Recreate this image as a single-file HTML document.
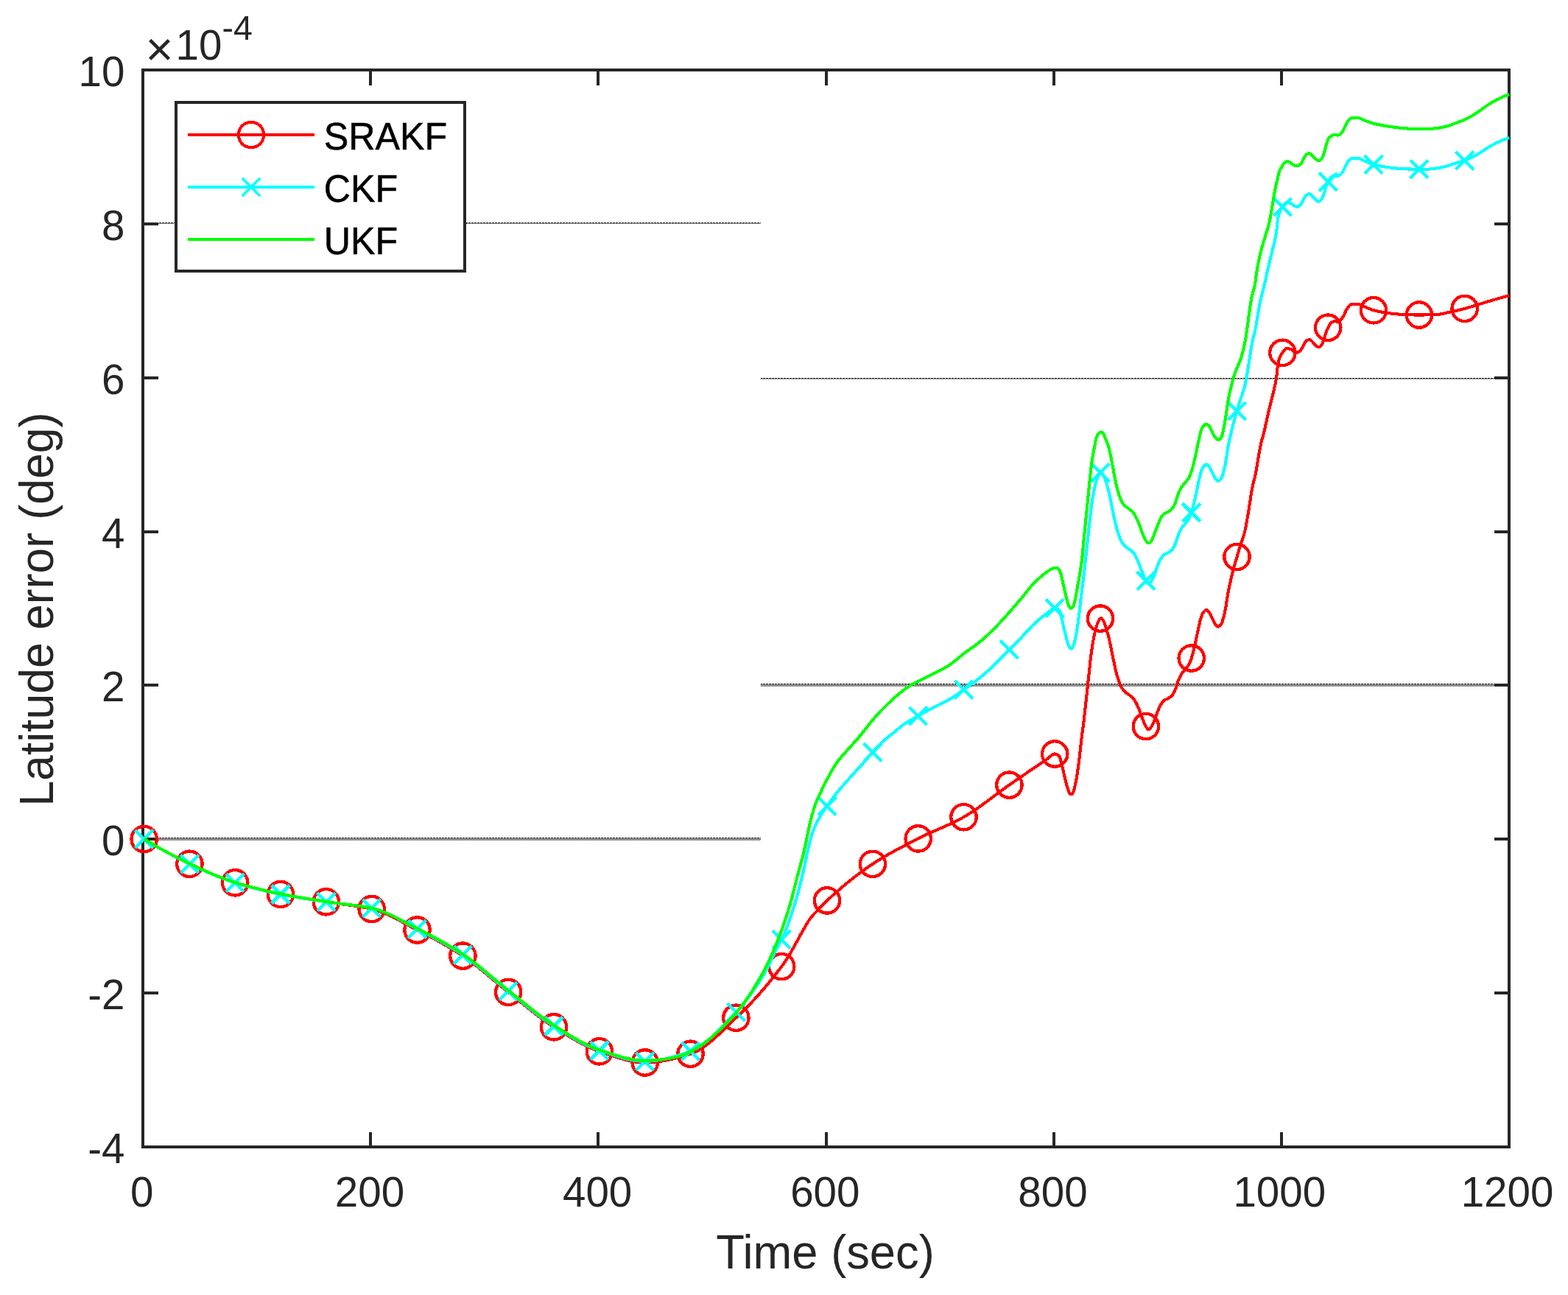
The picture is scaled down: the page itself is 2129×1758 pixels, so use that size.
<!DOCTYPE html>
<html lang="en"><head><meta charset="utf-8"><title>Latitude error</title>
<style>
html,body{margin:0;padding:0;background:#fff;}
body{width:2129px;height:1758px;overflow:hidden;}
svg{display:block;}
text{font-family:'Liberation Sans', Arial, Helvetica, sans-serif;}
</style></head><body>
<svg width="2129" height="1758" viewBox="0 0 2129 1758">
<defs>
<pattern id="g4" x="0" y="0" width="4" height="4" patternUnits="userSpaceOnUse">
<rect x="0" y="0" width="3" height="1" fill="#1c1c1c"/>
<rect x="1" y="1" width="1" height="1" fill="#1c1c1c"/><rect x="3" y="1" width="1" height="1" fill="#1c1c1c"/>
<rect x="0" y="2" width="1" height="1" fill="#1c1c1c"/><rect x="2" y="2" width="1" height="1" fill="#1c1c1c"/>
<rect x="1" y="3" width="1" height="1" fill="#1c1c1c"/><rect x="3" y="3" width="1" height="1" fill="#1c1c1c"/>
</pattern>
<clipPath id="ax"><rect x="192.0" y="93.0" width="1859.0" height="1466.0"/></clipPath>
</defs>
<rect x="0" y="0" width="2129" height="1758" fill="#ffffff"/>
<g transform="translate(0,302)"><rect x="194.0" y="0" width="839.0" height="2" fill="url(#g4)" shape-rendering="crispEdges"/></g>
<g transform="translate(0,513)"><rect x="1033" y="0" width="1016.0" height="2" fill="url(#g4)" shape-rendering="crispEdges"/></g>
<g transform="translate(0,928)"><rect x="1033" y="0" width="1016.0" height="4" fill="url(#g4)" shape-rendering="crispEdges"/></g>
<g transform="translate(0,1137)"><rect x="194.0" y="0" width="839.0" height="4" fill="url(#g4)" shape-rendering="crispEdges"/></g>
<g stroke="#262626" stroke-width="4" fill="none" shape-rendering="crispEdges">
<rect x="194.0" y="95.0" width="1855.0" height="1462.0"/>
<line x1="503" y1="1557.0" x2="503" y2="1536.5"/><line x1="503" y1="95.0" x2="503" y2="115.5"/>
<line x1="812" y1="1557.0" x2="812" y2="1536.5"/><line x1="812" y1="95.0" x2="812" y2="115.5"/>
<line x1="1122" y1="1557.0" x2="1122" y2="1536.5"/><line x1="1122" y1="95.0" x2="1122" y2="115.5"/>
<line x1="1431" y1="1557.0" x2="1431" y2="1536.5"/><line x1="1431" y1="95.0" x2="1431" y2="115.5"/>
<line x1="1740" y1="1557.0" x2="1740" y2="1536.5"/><line x1="1740" y1="95.0" x2="1740" y2="115.5"/>
<line x1="194.0" y1="304" x2="214.5" y2="304"/><line x1="2049.0" y1="304" x2="2028.5" y2="304"/>
<line x1="194.0" y1="513" x2="214.5" y2="513"/><line x1="2049.0" y1="513" x2="2028.5" y2="513"/>
<line x1="194.0" y1="722" x2="214.5" y2="722"/><line x1="2049.0" y1="722" x2="2028.5" y2="722"/>
<line x1="194.0" y1="930" x2="214.5" y2="930"/><line x1="2049.0" y1="930" x2="2028.5" y2="930"/>
<line x1="194.0" y1="1139" x2="214.5" y2="1139"/><line x1="2049.0" y1="1139" x2="2028.5" y2="1139"/>
<line x1="194.0" y1="1348" x2="214.5" y2="1348"/><line x1="2049.0" y1="1348" x2="2028.5" y2="1348"/>
</g>
<g fill="#262626" font-size="56.5">
<text x="192.8" y="1637.5" text-anchor="middle">0</text>
<text x="502.0" y="1637.5" text-anchor="middle">200</text>
<text x="811.1" y="1637.5" text-anchor="middle">400</text>
<text x="1120.3" y="1637.5" text-anchor="middle">600</text>
<text x="1429.5" y="1637.5" text-anchor="middle">800</text>
<text x="1737.3" y="1637.5" text-anchor="middle">1000</text>
<text x="2046.5" y="1637.5" text-anchor="middle">1200</text>
<text x="169.4" y="117.0" text-anchor="end">10</text>
<text x="169.4" y="326.0" text-anchor="end">8</text>
<text x="169.4" y="535.0" text-anchor="end">6</text>
<text x="169.4" y="744.0" text-anchor="end">4</text>
<text x="169.4" y="952.0" text-anchor="end">2</text>
<text x="169.4" y="1161.0" text-anchor="end">0</text>
<text x="169.4" y="1370.0" text-anchor="end">-2</text>
<text x="169.4" y="1579.0" text-anchor="end">-4</text>
<text x="197.4" y="89" font-size="65">×</text>
<text x="238.5" y="80.9" font-size="56.5">10</text>
<text x="301.5" y="53.6" font-size="46.5">-4</text>
</g>
<text transform="translate(1120.5,1721.8) scale(1,1.03)" text-anchor="middle" font-size="63.3" fill="#262626">Time (sec)</text>
<text transform="translate(71.7,827.2) rotate(-90) scale(1,1.045)" text-anchor="middle" font-size="62.5" fill="#262626">Latitude error (deg)</text>
<g fill="none" stroke-linejoin="round" stroke-linecap="butt" shape-rendering="crispEdges">
<path d="M195.7,1139.0 L196.7,1139.6 L197.7,1140.2 L198.7,1140.8 L199.7,1141.4 L200.7,1142.1 L201.7,1142.7 L202.7,1143.3 L203.7,1143.9 L204.7,1144.5 L205.7,1145.1 L206.7,1145.7 L207.7,1146.2 L208.7,1146.8 L209.7,1147.4 L210.7,1148.0 L211.7,1148.6 L212.7,1149.2 L213.7,1149.8 L214.7,1150.3 L215.7,1150.9 L216.7,1151.5 L217.7,1152.1 L218.7,1152.6 L219.7,1153.2 L220.7,1153.8 L221.7,1154.3 L222.7,1154.9 L223.7,1155.4 L224.7,1156.0 L225.7,1156.5 L226.7,1157.1 L227.7,1157.6 L228.7,1158.2 L229.7,1158.7 L230.7,1159.3 L231.7,1159.8 L232.7,1160.4 L233.7,1160.9 L234.7,1161.4 L235.7,1161.9 L236.7,1162.5 L237.7,1163.0 L238.7,1163.5 L239.7,1164.0 L240.7,1164.6 L241.7,1165.1 L242.7,1165.6 L243.7,1166.1 L244.7,1166.6 L245.7,1167.1 L246.7,1167.6 L247.7,1168.1 L248.7,1168.6 L249.7,1169.1 L250.7,1169.6 L251.7,1170.1 L252.7,1170.6 L253.7,1171.0 L254.7,1171.5 L255.7,1172.0 L256.7,1172.5 L257.7,1172.9 L258.7,1173.4 L259.7,1173.9 L260.7,1174.4 L261.7,1174.8 L262.7,1175.3 L263.7,1175.8 L264.7,1176.2 L265.7,1176.7 L266.7,1177.2 L267.7,1177.6 L268.7,1178.1 L269.7,1178.5 L270.7,1179.0 L271.7,1179.5 L272.7,1179.9 L273.7,1180.4 L274.7,1180.8 L275.7,1181.3 L276.7,1181.7 L277.7,1182.2 L278.7,1182.6 L279.7,1183.1 L280.7,1183.5 L281.7,1183.9 L282.7,1184.4 L283.7,1184.8 L284.7,1185.2 L285.7,1185.7 L286.7,1186.1 L287.7,1186.5 L288.7,1187.0 L289.7,1187.4 L290.7,1187.8 L291.7,1188.2 L292.7,1188.6 L293.7,1189.0 L294.7,1189.4 L295.7,1189.8 L296.7,1190.2 L297.7,1190.6 L298.7,1191.0 L299.7,1191.4 L300.7,1191.8 L301.7,1192.2 L302.7,1192.6 L303.7,1193.0 L304.7,1193.3 L305.7,1193.7 L306.7,1194.1 L307.7,1194.4 L308.7,1194.8 L309.7,1195.2 L310.7,1195.5 L311.7,1195.9 L312.7,1196.2 L313.7,1196.5 L314.7,1196.9 L315.7,1197.2 L316.7,1197.5 L317.7,1197.9 L318.7,1198.2 L319.7,1198.5 L320.7,1198.8 L321.7,1199.1 L322.7,1199.4 L323.7,1199.7 L324.7,1200.0 L325.7,1200.3 L326.7,1200.6 L327.7,1200.9 L328.7,1201.2 L329.7,1201.5 L330.7,1201.8 L331.7,1202.1 L332.7,1202.4 L333.7,1202.7 L334.7,1202.9 L335.7,1203.2 L336.7,1203.5 L337.7,1203.8 L338.7,1204.0 L339.7,1204.3 L340.7,1204.6 L341.7,1204.8 L342.7,1205.1 L343.7,1205.4 L344.7,1205.6 L345.7,1205.9 L346.7,1206.2 L347.7,1206.4 L348.7,1206.7 L349.7,1206.9 L350.7,1207.2 L351.7,1207.4 L352.7,1207.7 L353.7,1207.9 L354.7,1208.2 L355.7,1208.4 L356.7,1208.6 L357.7,1208.9 L358.7,1209.1 L359.7,1209.3 L360.7,1209.6 L361.7,1209.8 L362.7,1210.0 L363.7,1210.3 L364.7,1210.5 L365.7,1210.7 L366.7,1210.9 L367.7,1211.2 L368.7,1211.4 L369.7,1211.6 L370.7,1211.8 L371.7,1212.0 L372.7,1212.2 L373.7,1212.5 L374.7,1212.7 L375.7,1212.9 L376.7,1213.1 L377.7,1213.3 L378.7,1213.5 L379.7,1213.7 L380.7,1213.9 L381.7,1214.1 L382.7,1214.3 L383.7,1214.5 L384.7,1214.7 L385.7,1214.9 L386.7,1215.1 L387.7,1215.3 L388.7,1215.4 L389.7,1215.6 L390.7,1215.8 L391.7,1216.0 L392.7,1216.2 L393.7,1216.4 L394.7,1216.5 L395.7,1216.7 L396.7,1216.9 L397.7,1217.1 L398.7,1217.2 L399.7,1217.4 L400.7,1217.6 L401.7,1217.7 L402.7,1217.9 L403.7,1218.1 L404.7,1218.2 L405.7,1218.4 L406.7,1218.6 L407.7,1218.7 L408.7,1218.9 L409.7,1219.1 L410.7,1219.2 L411.7,1219.4 L412.7,1219.5 L413.7,1219.7 L414.7,1219.9 L415.7,1220.0 L416.7,1220.2 L417.7,1220.3 L418.7,1220.5 L419.7,1220.6 L420.7,1220.8 L421.7,1220.9 L422.7,1221.1 L423.7,1221.3 L424.7,1221.4 L425.7,1221.6 L426.7,1221.7 L427.7,1221.9 L428.7,1222.0 L429.7,1222.2 L430.7,1222.3 L431.7,1222.5 L432.7,1222.7 L433.7,1222.8 L434.7,1223.0 L435.7,1223.1 L436.7,1223.3 L437.7,1223.4 L438.7,1223.6 L439.7,1223.8 L440.7,1223.9 L441.7,1224.1 L442.7,1224.2 L443.7,1224.4 L444.7,1224.6 L445.7,1224.7 L446.7,1224.9 L447.7,1225.0 L448.7,1225.2 L449.7,1225.3 L450.7,1225.5 L451.7,1225.6 L452.7,1225.7 L453.7,1225.9 L454.7,1226.0 L455.7,1226.2 L456.7,1226.3 L457.7,1226.4 L458.7,1226.6 L459.7,1226.7 L460.7,1226.8 L461.7,1227.0 L462.7,1227.1 L463.7,1227.2 L464.7,1227.4 L465.7,1227.5 L466.7,1227.6 L467.7,1227.7 L468.7,1227.9 L469.7,1228.0 L470.7,1228.1 L471.7,1228.3 L472.7,1228.4 L473.7,1228.5 L474.7,1228.7 L475.7,1228.8 L476.7,1229.0 L477.7,1229.1 L478.7,1229.2 L479.7,1229.4 L480.7,1229.5 L481.7,1229.7 L482.7,1229.8 L483.7,1230.0 L484.7,1230.1 L485.7,1230.3 L486.7,1230.5 L487.7,1230.6 L488.7,1230.8 L489.7,1231.0 L490.7,1231.1 L491.7,1231.3 L492.7,1231.5 L493.7,1231.7 L494.7,1231.9 L495.7,1232.0 L496.7,1232.2 L497.7,1232.4 L498.7,1232.6 L499.7,1232.8 L500.7,1233.1 L501.7,1233.3 L502.7,1233.5 L503.7,1233.7 L504.7,1234.0 L505.7,1234.2 L506.7,1234.4 L507.7,1234.7 L508.7,1235.0 L509.7,1235.3 L510.7,1235.6 L511.7,1235.9 L512.7,1236.2 L513.7,1236.5 L514.7,1236.9 L515.7,1237.2 L516.7,1237.6 L517.7,1238.0 L518.7,1238.4 L519.7,1238.8 L520.7,1239.2 L521.7,1239.6 L522.7,1240.0 L523.7,1240.4 L524.7,1240.9 L525.7,1241.3 L526.7,1241.8 L527.7,1242.2 L528.7,1242.7 L529.7,1243.2 L530.7,1243.7 L531.7,1244.1 L532.7,1244.6 L533.7,1245.1 L534.7,1245.6 L535.7,1246.1 L536.7,1246.6 L537.7,1247.2 L538.7,1247.7 L539.7,1248.2 L540.7,1248.7 L541.7,1249.2 L542.7,1249.8 L543.7,1250.3 L544.7,1250.8 L545.7,1251.4 L546.7,1251.9 L547.7,1252.5 L548.7,1253.0 L549.7,1253.5 L550.7,1254.1 L551.7,1254.6 L552.7,1255.2 L553.7,1255.7 L554.7,1256.3 L555.7,1256.8 L556.7,1257.3 L557.7,1257.9 L558.7,1258.4 L559.7,1258.9 L560.7,1259.5 L561.7,1260.0 L562.7,1260.5 L563.7,1261.1 L564.7,1261.6 L565.7,1262.1 L566.7,1262.6 L567.7,1263.1 L568.7,1263.6 L569.7,1264.1 L570.7,1264.6 L571.7,1265.2 L572.7,1265.7 L573.7,1266.2 L574.7,1266.7 L575.7,1267.2 L576.7,1267.7 L577.7,1268.3 L578.7,1268.8 L579.7,1269.3 L580.7,1269.8 L581.7,1270.4 L582.7,1270.9 L583.7,1271.4 L584.7,1271.9 L585.7,1272.5 L586.7,1273.0 L587.7,1273.5 L588.7,1274.1 L589.7,1274.6 L590.7,1275.2 L591.7,1275.7 L592.7,1276.3 L593.7,1276.8 L594.7,1277.4 L595.7,1277.9 L596.7,1278.5 L597.7,1279.0 L598.7,1279.6 L599.7,1280.1 L600.7,1280.7 L601.7,1281.3 L602.7,1281.9 L603.7,1282.4 L604.7,1283.0 L605.7,1283.6 L606.7,1284.2 L607.7,1284.7 L608.7,1285.3 L609.7,1285.9 L610.7,1286.5 L611.7,1287.1 L612.7,1287.7 L613.7,1288.3 L614.7,1288.9 L615.7,1289.5 L616.7,1290.2 L617.7,1290.8 L618.7,1291.4 L619.7,1292.0 L620.7,1292.7 L621.7,1293.3 L622.7,1293.9 L623.7,1294.6 L624.7,1295.2 L625.7,1295.9 L626.7,1296.5 L627.7,1297.2 L628.7,1297.8 L629.7,1298.5 L630.7,1299.2 L631.7,1299.9 L632.7,1300.6 L633.7,1301.3 L634.7,1302.0 L635.7,1302.7 L636.7,1303.4 L637.7,1304.2 L638.7,1304.9 L639.7,1305.6 L640.7,1306.4 L641.7,1307.2 L642.7,1307.9 L643.7,1308.7 L644.7,1309.5 L645.7,1310.3 L646.7,1311.0 L647.7,1311.8 L648.7,1312.6 L649.7,1313.4 L650.7,1314.2 L651.7,1315.1 L652.7,1315.9 L653.7,1316.7 L654.7,1317.5 L655.7,1318.3 L656.7,1319.2 L657.7,1320.0 L658.7,1320.8 L659.7,1321.6 L660.7,1322.5 L661.7,1323.3 L662.7,1324.2 L663.7,1325.0 L664.7,1325.8 L665.7,1326.7 L666.7,1327.5 L667.7,1328.4 L668.7,1329.2 L669.7,1330.0 L670.7,1330.9 L671.7,1331.7 L672.7,1332.6 L673.7,1333.4 L674.7,1334.2 L675.7,1335.1 L676.7,1335.9 L677.7,1336.7 L678.7,1337.6 L679.7,1338.4 L680.7,1339.2 L681.7,1340.0 L682.7,1340.8 L683.7,1341.7 L684.7,1342.5 L685.7,1343.3 L686.7,1344.1 L687.7,1344.9 L688.7,1345.7 L689.7,1346.5 L690.7,1347.2 L691.7,1348.0 L692.7,1348.8 L693.7,1349.6 L694.7,1350.4 L695.7,1351.2 L696.7,1352.0 L697.7,1352.8 L698.7,1353.6 L699.7,1354.4 L700.7,1355.2 L701.7,1356.0 L702.7,1356.8 L703.7,1357.6 L704.7,1358.4 L705.7,1359.2 L706.7,1360.0 L707.7,1360.9 L708.7,1361.7 L709.7,1362.5 L710.7,1363.3 L711.7,1364.1 L712.7,1364.9 L713.7,1365.7 L714.7,1366.5 L715.7,1367.3 L716.7,1368.1 L717.7,1368.9 L718.7,1369.7 L719.7,1370.5 L720.7,1371.3 L721.7,1372.1 L722.7,1372.9 L723.7,1373.7 L724.7,1374.5 L725.7,1375.3 L726.7,1376.1 L727.7,1376.9 L728.7,1377.6 L729.7,1378.4 L730.7,1379.2 L731.7,1379.9 L732.7,1380.7 L733.7,1381.4 L734.7,1382.2 L735.7,1382.9 L736.7,1383.7 L737.7,1384.4 L738.7,1385.1 L739.7,1385.8 L740.7,1386.6 L741.7,1387.3 L742.7,1388.0 L743.7,1388.7 L744.7,1389.4 L745.7,1390.0 L746.7,1390.7 L747.7,1391.4 L748.7,1392.0 L749.7,1392.7 L750.7,1393.3 L751.7,1394.0 L752.7,1394.6 L753.7,1395.2 L754.7,1395.9 L755.7,1396.5 L756.7,1397.1 L757.7,1397.8 L758.7,1398.4 L759.7,1399.0 L760.7,1399.6 L761.7,1400.3 L762.7,1400.9 L763.7,1401.5 L764.7,1402.1 L765.7,1402.7 L766.7,1403.4 L767.7,1404.0 L768.7,1404.6 L769.7,1405.2 L770.7,1405.8 L771.7,1406.4 L772.7,1407.0 L773.7,1407.6 L774.7,1408.2 L775.7,1408.8 L776.7,1409.4 L777.7,1410.0 L778.7,1410.6 L779.7,1411.1 L780.7,1411.7 L781.7,1412.3 L782.7,1412.8 L783.7,1413.4 L784.7,1413.9 L785.7,1414.5 L786.7,1415.0 L787.7,1415.6 L788.7,1416.1 L789.7,1416.6 L790.7,1417.2 L791.7,1417.7 L792.7,1418.2 L793.7,1418.7 L794.7,1419.2 L795.7,1419.7 L796.7,1420.2 L797.7,1420.6 L798.7,1421.1 L799.7,1421.6 L800.7,1422.0 L801.7,1422.5 L802.7,1422.9 L803.7,1423.3 L804.7,1423.8 L805.7,1424.2 L806.7,1424.6 L807.7,1425.0 L808.7,1425.4 L809.7,1425.8 L810.7,1426.1 L811.7,1426.5 L812.7,1426.9 L813.7,1427.2 L814.7,1427.5 L815.7,1427.9 L816.7,1428.2 L817.7,1428.6 L818.7,1428.9 L819.7,1429.2 L820.7,1429.6 L821.7,1429.9 L822.7,1430.3 L823.7,1430.6 L824.7,1431.0 L825.7,1431.3 L826.7,1431.7 L827.7,1432.0 L828.7,1432.3 L829.7,1432.7 L830.7,1433.0 L831.7,1433.4 L832.7,1433.7 L833.7,1434.0 L834.7,1434.3 L835.7,1434.7 L836.7,1435.0 L837.7,1435.3 L838.7,1435.6 L839.7,1435.9 L840.7,1436.2 L841.7,1436.6 L842.7,1436.9 L843.7,1437.1 L844.7,1437.4 L845.7,1437.7 L846.7,1438.0 L847.7,1438.3 L848.7,1438.5 L849.7,1438.8 L850.7,1439.0 L851.7,1439.3 L852.7,1439.5 L853.7,1439.8 L854.7,1440.0 L855.7,1440.2 L856.7,1440.4 L857.7,1440.6 L858.7,1440.8 L859.7,1441.0 L860.7,1441.1 L861.7,1441.3 L862.7,1441.5 L863.7,1441.6 L864.7,1441.7 L865.7,1441.9 L866.7,1442.0 L867.7,1442.1 L868.7,1442.2 L869.7,1442.3 L870.7,1442.3 L871.7,1442.4 L872.7,1442.4 L873.7,1442.5 L874.7,1442.5 L875.7,1442.5 L876.7,1442.5 L877.7,1442.5 L878.7,1442.5 L879.7,1442.4 L880.7,1442.4 L881.7,1442.4 L882.7,1442.3 L883.7,1442.2 L884.7,1442.2 L885.7,1442.1 L886.7,1442.0 L887.7,1441.9 L888.7,1441.8 L889.7,1441.7 L890.7,1441.6 L891.7,1441.5 L892.7,1441.4 L893.7,1441.2 L894.7,1441.1 L895.7,1441.0 L896.7,1440.8 L897.7,1440.7 L898.7,1440.5 L899.7,1440.3 L900.7,1440.2 L901.7,1440.0 L902.7,1439.8 L903.7,1439.6 L904.7,1439.4 L905.7,1439.2 L906.7,1439.0 L907.7,1438.8 L908.7,1438.6 L909.7,1438.3 L910.7,1438.1 L911.7,1437.9 L912.7,1437.6 L913.7,1437.4 L914.7,1437.2 L915.7,1436.9 L916.7,1436.7 L917.7,1436.4 L918.7,1436.1 L919.7,1435.9 L920.7,1435.6 L921.7,1435.3 L922.7,1435.1 L923.7,1434.8 L924.7,1434.5 L925.7,1434.2 L926.7,1434.0 L927.7,1433.7 L928.7,1433.4 L929.7,1433.1 L930.7,1432.8 L931.7,1432.5 L932.7,1432.2 L933.7,1431.9 L934.7,1431.6 L935.7,1431.3 L936.7,1431.0 L937.7,1430.7 L938.7,1430.3 L939.7,1430.0 L940.7,1429.6 L941.7,1429.2 L942.7,1428.8 L943.7,1428.3 L944.7,1427.9 L945.7,1427.4 L946.7,1426.9 L947.7,1426.3 L948.7,1425.7 L949.7,1425.2 L950.7,1424.6 L951.7,1423.9 L952.7,1423.3 L953.7,1422.6 L954.7,1422.0 L955.7,1421.3 L956.7,1420.5 L957.7,1419.8 L958.7,1419.1 L959.7,1418.3 L960.7,1417.5 L961.7,1416.7 L962.7,1415.9 L963.7,1415.1 L964.7,1414.3 L965.7,1413.4 L966.7,1412.6 L967.7,1411.7 L968.7,1410.8 L969.7,1410.0 L970.7,1409.1 L971.7,1408.2 L972.7,1407.2 L973.7,1406.3 L974.7,1405.4 L975.7,1404.5 L976.7,1403.5 L977.7,1402.6 L978.7,1401.6 L979.7,1400.7 L980.7,1399.7 L981.7,1398.7 L982.7,1397.8 L983.7,1396.8 L984.7,1395.8 L985.7,1394.9 L986.7,1393.9 L987.7,1392.9 L988.7,1391.9 L989.7,1391.0 L990.7,1390.0 L991.7,1389.0 L992.7,1388.1 L993.7,1387.1 L994.7,1386.1 L995.7,1385.2 L996.7,1384.2 L997.7,1383.3 L998.7,1382.3 L999.7,1381.4 L1000.7,1380.5 L1001.7,1379.5 L1002.7,1378.6 L1003.7,1377.6 L1004.7,1376.7 L1005.7,1375.7 L1006.7,1374.7 L1007.7,1373.8 L1008.7,1372.8 L1009.7,1371.8 L1010.7,1370.8 L1011.7,1369.8 L1012.7,1368.8 L1013.7,1367.8 L1014.7,1366.7 L1015.7,1365.7 L1016.7,1364.7 L1017.7,1363.6 L1018.7,1362.6 L1019.7,1361.5 L1020.7,1360.5 L1021.7,1359.4 L1022.7,1358.4 L1023.7,1357.3 L1024.7,1356.2 L1025.7,1355.1 L1026.7,1354.0 L1027.7,1352.9 L1028.7,1351.8 L1029.7,1350.7 L1030.7,1349.6 L1031.7,1348.4 L1032.7,1347.3 L1033.7,1346.1 L1034.7,1345.0 L1035.7,1343.8 L1036.7,1342.7 L1037.7,1341.5 L1038.7,1340.3 L1039.7,1339.2 L1040.7,1338.0 L1041.7,1336.8 L1042.7,1335.6 L1043.7,1334.4 L1044.7,1333.1 L1045.7,1331.9 L1046.7,1330.7 L1047.7,1329.5 L1048.7,1328.2 L1049.7,1327.0 L1050.7,1325.7 L1051.7,1324.4 L1052.7,1323.2 L1053.7,1321.9 L1054.7,1320.6 L1055.7,1319.3 L1056.7,1318.0 L1057.7,1316.7 L1058.7,1315.4 L1059.7,1314.1 L1060.7,1312.8 L1061.7,1311.4 L1062.7,1310.1 L1063.7,1308.7 L1064.7,1307.3 L1065.7,1305.8 L1066.7,1304.3 L1067.7,1302.8 L1068.7,1301.2 L1069.7,1299.6 L1070.7,1298.0 L1071.7,1296.4 L1072.7,1294.8 L1073.7,1293.1 L1074.7,1291.3 L1075.7,1289.5 L1076.7,1287.7 L1077.7,1285.9 L1078.7,1284.1 L1079.7,1282.2 L1080.7,1280.4 L1081.7,1278.6 L1082.7,1276.8 L1083.7,1275.0 L1084.7,1273.1 L1085.7,1271.3 L1086.7,1269.5 L1087.7,1267.6 L1088.7,1265.8 L1089.7,1264.1 L1090.7,1262.3 L1091.7,1260.6 L1092.7,1258.9 L1093.7,1257.2 L1094.7,1255.5 L1095.7,1253.8 L1096.7,1252.1 L1097.7,1250.5 L1098.7,1249.0 L1099.7,1247.5 L1100.7,1246.1 L1101.7,1244.9 L1102.7,1243.7 L1103.7,1242.5 L1104.7,1241.4 L1105.7,1240.4 L1106.7,1239.3 L1107.7,1238.3 L1108.7,1237.3 L1109.7,1236.2 L1110.7,1235.2 L1111.7,1234.1 L1112.7,1233.0 L1113.7,1232.0 L1114.7,1230.9 L1115.7,1229.8 L1116.7,1228.8 L1117.7,1227.7 L1118.7,1226.7 L1119.7,1225.7 L1120.7,1224.7 L1121.7,1223.7 L1122.7,1222.8 L1123.7,1221.8 L1124.7,1220.9 L1125.7,1220.0 L1126.7,1219.1 L1127.7,1218.2 L1128.7,1217.3 L1129.7,1216.3 L1130.7,1215.4 L1131.7,1214.5 L1132.7,1213.7 L1133.7,1212.8 L1134.7,1211.9 L1135.7,1211.0 L1136.7,1210.1 L1137.7,1209.2 L1138.7,1208.4 L1139.7,1207.5 L1140.7,1206.6 L1141.7,1205.8 L1142.7,1204.9 L1143.7,1204.1 L1144.7,1203.2 L1145.7,1202.4 L1146.7,1201.5 L1147.7,1200.7 L1148.7,1199.9 L1149.7,1199.0 L1150.7,1198.2 L1151.7,1197.4 L1152.7,1196.6 L1153.7,1195.8 L1154.7,1195.0 L1155.7,1194.2 L1156.7,1193.4 L1157.7,1192.6 L1158.7,1191.8 L1159.7,1191.0 L1160.7,1190.2 L1161.7,1189.5 L1162.7,1188.7 L1163.7,1187.9 L1164.7,1187.2 L1165.7,1186.4 L1166.7,1185.7 L1167.7,1184.9 L1168.7,1184.2 L1169.7,1183.4 L1170.7,1182.7 L1171.7,1182.0 L1172.7,1181.3 L1173.7,1180.6 L1174.7,1179.8 L1175.7,1179.1 L1176.7,1178.4 L1177.7,1177.7 L1178.7,1177.0 L1179.7,1176.4 L1180.7,1175.7 L1181.7,1175.0 L1182.7,1174.3 L1183.7,1173.7 L1184.7,1173.0 L1185.7,1172.3 L1186.7,1171.7 L1187.7,1171.0 L1188.7,1170.4 L1189.7,1169.8 L1190.7,1169.1 L1191.7,1168.5 L1192.7,1167.9 L1193.7,1167.3 L1194.7,1166.7 L1195.7,1166.0 L1196.7,1165.4 L1197.7,1164.8 L1198.7,1164.2 L1199.7,1163.6 L1200.7,1163.0 L1201.7,1162.5 L1202.7,1161.9 L1203.7,1161.3 L1204.7,1160.7 L1205.7,1160.1 L1206.7,1159.6 L1207.7,1159.0 L1208.7,1158.4 L1209.7,1157.9 L1210.7,1157.3 L1211.7,1156.8 L1212.7,1156.2 L1213.7,1155.7 L1214.7,1155.1 L1215.7,1154.6 L1216.7,1154.0 L1217.7,1153.5 L1218.7,1152.9 L1219.7,1152.4 L1220.7,1151.9 L1221.7,1151.3 L1222.7,1150.8 L1223.7,1150.3 L1224.7,1149.7 L1225.7,1149.2 L1226.7,1148.7 L1227.7,1148.2 L1228.7,1147.7 L1229.7,1147.1 L1230.7,1146.6 L1231.7,1146.1 L1232.7,1145.6 L1233.7,1145.1 L1234.7,1144.5 L1235.7,1144.0 L1236.7,1143.5 L1237.7,1143.0 L1238.7,1142.5 L1239.7,1142.0 L1240.7,1141.5 L1241.7,1141.0 L1242.7,1140.4 L1243.7,1139.9 L1244.7,1139.4 L1245.7,1138.9 L1246.7,1138.4 L1247.7,1137.9 L1248.7,1137.4 L1249.7,1136.9 L1250.7,1136.4 L1251.7,1135.9 L1252.7,1135.4 L1253.7,1134.9 L1254.7,1134.5 L1255.7,1134.0 L1256.7,1133.5 L1257.7,1133.1 L1258.7,1132.6 L1259.7,1132.1 L1260.7,1131.7 L1261.7,1131.2 L1262.7,1130.8 L1263.7,1130.3 L1264.7,1129.9 L1265.7,1129.4 L1266.7,1129.0 L1267.7,1128.6 L1268.7,1128.1 L1269.7,1127.7 L1270.7,1127.2 L1271.7,1126.8 L1272.7,1126.4 L1273.7,1125.9 L1274.7,1125.5 L1275.7,1125.1 L1276.7,1124.6 L1277.7,1124.2 L1278.7,1123.7 L1279.7,1123.3 L1280.7,1122.9 L1281.7,1122.4 L1282.7,1122.0 L1283.7,1121.5 L1284.7,1121.1 L1285.7,1120.6 L1286.7,1120.2 L1287.7,1119.7 L1288.7,1119.2 L1289.7,1118.8 L1290.7,1118.3 L1291.7,1117.8 L1292.7,1117.4 L1293.7,1116.9 L1294.7,1116.4 L1295.7,1115.9 L1296.7,1115.4 L1297.7,1114.9 L1298.7,1114.4 L1299.7,1113.9 L1300.7,1113.4 L1301.7,1112.9 L1302.7,1112.4 L1303.7,1111.8 L1304.7,1111.3 L1305.7,1110.7 L1306.7,1110.2 L1307.7,1109.6 L1308.7,1109.1 L1309.7,1108.5 L1310.7,1107.9 L1311.7,1107.3 L1312.7,1106.7 L1313.7,1106.1 L1314.7,1105.5 L1315.7,1104.9 L1316.7,1104.2 L1317.7,1103.6 L1318.7,1103.0 L1319.7,1102.3 L1320.7,1101.6 L1321.7,1101.0 L1322.7,1100.3 L1323.7,1099.6 L1324.7,1098.9 L1325.7,1098.3 L1326.7,1097.6 L1327.7,1096.9 L1328.7,1096.2 L1329.7,1095.5 L1330.7,1094.7 L1331.7,1094.0 L1332.7,1093.3 L1333.7,1092.6 L1334.7,1091.8 L1335.7,1091.1 L1336.7,1090.4 L1337.7,1089.6 L1338.7,1088.9 L1339.7,1088.2 L1340.7,1087.4 L1341.7,1086.7 L1342.7,1085.9 L1343.7,1085.2 L1344.7,1084.4 L1345.7,1083.7 L1346.7,1082.9 L1347.7,1082.2 L1348.7,1081.4 L1349.7,1080.7 L1350.7,1079.9 L1351.7,1079.2 L1352.7,1078.4 L1353.7,1077.7 L1354.7,1076.9 L1355.7,1076.2 L1356.7,1075.4 L1357.7,1074.7 L1358.7,1074.0 L1359.7,1073.2 L1360.7,1072.5 L1361.7,1071.7 L1362.7,1071.0 L1363.7,1070.3 L1364.7,1069.6 L1365.7,1068.9 L1366.7,1068.1 L1367.7,1067.4 L1368.7,1066.7 L1369.7,1066.0 L1370.7,1065.3 L1371.7,1064.6 L1372.7,1063.9 L1373.7,1063.3 L1374.7,1062.6 L1375.7,1061.9 L1376.7,1061.2 L1377.7,1060.5 L1378.7,1059.8 L1379.7,1059.1 L1380.7,1058.4 L1381.7,1057.7 L1382.7,1057.0 L1383.7,1056.4 L1384.7,1055.7 L1385.7,1055.0 L1386.7,1054.3 L1387.7,1053.6 L1388.7,1052.9 L1389.7,1052.2 L1390.7,1051.6 L1391.7,1050.9 L1392.7,1050.2 L1393.7,1049.5 L1394.7,1048.8 L1395.7,1048.1 L1396.7,1047.5 L1397.7,1046.8 L1398.7,1046.1 L1399.7,1045.4 L1400.7,1044.7 L1401.7,1044.1 L1402.7,1043.4 L1403.7,1042.7 L1404.7,1042.0 L1405.7,1041.3 L1406.7,1040.7 L1407.7,1040.0 L1408.7,1039.3 L1409.7,1038.6 L1410.7,1037.9 L1411.7,1037.3 L1412.7,1036.6 L1413.7,1035.9 L1414.7,1035.2 L1415.7,1034.6 L1416.7,1033.9 L1417.7,1033.2 L1418.7,1032.5 L1419.7,1031.9 L1420.7,1031.2 L1421.7,1030.5 L1422.7,1029.7 L1423.7,1028.9 L1424.7,1028.0 L1425.7,1027.1 L1426.7,1026.2 L1427.7,1025.4 L1428.7,1024.7 L1429.7,1024.1 L1430.7,1023.7 L1431.7,1023.5 L1432.7,1023.5 L1433.7,1023.7 L1434.7,1024.0 L1435.7,1024.4 L1436.7,1025.0 L1437.7,1025.7 L1438.7,1027.1 L1439.7,1030.2 L1440.7,1034.1 L1441.7,1037.9 L1442.7,1042.1 L1443.7,1046.6 L1444.7,1050.9 L1445.7,1055.1 L1446.7,1059.1 L1447.7,1063.1 L1448.7,1067.0 L1449.7,1070.5 L1450.7,1073.4 L1451.7,1075.7 L1452.7,1077.2 L1453.7,1078.3 L1454.7,1078.4 L1455.7,1077.6 L1456.7,1076.3 L1457.7,1074.3 L1458.7,1070.7 L1459.7,1066.2 L1460.7,1061.6 L1461.7,1056.4 L1462.7,1050.5 L1463.7,1043.7 L1464.7,1036.0 L1465.7,1027.8 L1466.7,1019.1 L1467.7,1009.9 L1468.7,1001.3 L1469.7,993.6 L1470.7,986.2 L1471.7,978.2 L1472.7,969.3 L1473.7,959.9 L1474.7,950.6 L1475.7,941.4 L1476.7,932.3 L1477.7,923.1 L1478.7,914.0 L1479.7,904.4 L1480.7,895.0 L1481.7,887.0 L1482.7,880.0 L1483.7,873.6 L1484.7,868.0 L1485.7,862.8 L1486.7,858.1 L1487.7,853.9 L1488.7,850.4 L1489.7,847.4 L1490.7,844.8 L1491.7,842.7 L1492.7,841.2 L1493.7,840.0 L1494.7,839.2 L1495.7,839.4 L1496.7,840.5 L1497.7,842.0 L1498.7,843.7 L1499.7,846.0 L1500.7,848.9 L1501.7,852.2 L1502.7,855.4 L1503.7,858.8 L1504.7,862.5 L1505.7,866.4 L1506.7,870.8 L1507.7,875.6 L1508.7,880.6 L1509.7,885.4 L1510.7,890.2 L1511.7,895.0 L1512.7,899.8 L1513.7,904.5 L1514.7,909.3 L1515.7,913.5 L1516.7,917.1 L1517.7,920.3 L1518.7,923.3 L1519.7,926.0 L1520.7,928.5 L1521.7,930.9 L1522.7,932.9 L1523.7,934.5 L1524.7,936.0 L1525.7,937.3 L1526.7,938.4 L1527.7,939.4 L1528.7,940.2 L1529.7,940.9 L1530.7,941.6 L1531.7,942.3 L1532.7,943.0 L1533.7,943.8 L1534.7,944.5 L1535.7,945.2 L1536.7,946.0 L1537.7,946.9 L1538.7,947.9 L1539.7,949.2 L1540.7,950.8 L1541.7,952.5 L1542.7,954.4 L1543.7,956.4 L1544.7,958.6 L1545.7,961.0 L1546.7,963.4 L1547.7,965.9 L1548.7,968.6 L1549.7,971.3 L1550.7,974.0 L1551.7,976.6 L1552.7,979.1 L1553.7,981.6 L1554.7,983.9 L1555.7,985.8 L1556.7,987.5 L1557.7,989.1 L1558.7,990.1 L1559.7,990.2 L1560.7,989.7 L1561.7,988.7 L1562.7,987.5 L1563.7,986.2 L1564.7,984.3 L1565.7,982.1 L1566.7,979.7 L1567.7,977.3 L1568.7,974.5 L1569.7,971.5 L1570.7,968.6 L1571.7,966.1 L1572.7,963.6 L1573.7,961.3 L1574.7,959.2 L1575.7,957.3 L1576.7,955.6 L1577.7,953.9 L1578.7,952.5 L1579.7,951.3 L1580.7,950.6 L1581.7,950.1 L1582.7,949.6 L1583.7,949.3 L1584.7,948.8 L1585.7,948.3 L1586.7,947.7 L1587.7,947.1 L1588.7,946.4 L1589.7,945.6 L1590.7,944.7 L1591.7,943.7 L1592.7,942.3 L1593.7,940.5 L1594.7,938.6 L1595.7,936.4 L1596.7,933.7 L1597.7,930.5 L1598.7,927.2 L1599.7,924.3 L1600.7,921.9 L1601.7,919.7 L1602.7,917.7 L1603.7,915.9 L1604.7,914.3 L1605.7,912.9 L1606.7,911.7 L1607.7,910.5 L1608.7,909.4 L1609.7,908.2 L1610.7,906.9 L1611.7,905.8 L1612.7,904.5 L1613.7,903.1 L1614.7,901.3 L1615.7,899.1 L1616.7,896.5 L1617.7,893.5 L1618.7,890.4 L1619.7,886.9 L1620.7,882.9 L1621.7,878.7 L1622.7,874.4 L1623.7,869.9 L1624.7,865.0 L1625.7,860.0 L1626.7,855.3 L1627.7,850.8 L1628.7,846.3 L1629.7,842.1 L1630.7,838.4 L1631.7,835.7 L1632.7,833.4 L1633.7,831.6 L1634.7,830.2 L1635.7,829.3 L1636.7,828.5 L1637.7,828.1 L1638.7,828.3 L1639.7,829.0 L1640.7,830.0 L1641.7,831.0 L1642.7,832.5 L1643.7,834.4 L1644.7,836.5 L1645.7,838.5 L1646.7,840.6 L1647.7,842.8 L1648.7,845.0 L1649.7,846.7 L1650.7,848.0 L1651.7,849.2 L1652.7,850.2 L1653.7,850.7 L1654.7,850.6 L1655.7,850.0 L1656.7,849.1 L1657.7,848.0 L1658.7,846.4 L1659.7,843.7 L1660.7,840.3 L1661.7,836.7 L1662.7,832.7 L1663.7,828.0 L1664.7,822.6 L1665.7,815.7 L1666.7,808.8 L1667.7,803.2 L1668.7,798.3 L1669.7,793.7 L1670.7,789.4 L1671.7,785.1 L1672.7,780.9 L1673.7,776.9 L1674.7,773.0 L1675.7,769.2 L1676.7,765.6 L1677.7,762.1 L1678.7,758.8 L1679.7,755.4 L1680.7,751.9 L1681.7,748.4 L1682.7,745.0 L1683.7,741.8 L1684.7,738.9 L1685.7,736.2 L1686.7,733.3 L1687.7,730.2 L1688.7,726.9 L1689.7,723.3 L1690.7,719.2 L1691.7,714.3 L1692.7,708.7 L1693.7,702.9 L1694.7,697.0 L1695.7,690.9 L1696.7,684.6 L1697.7,678.2 L1698.7,671.4 L1699.7,665.1 L1700.7,660.1 L1701.7,655.9 L1702.7,652.2 L1703.7,648.3 L1704.7,644.0 L1705.7,638.8 L1706.7,632.6 L1707.7,626.1 L1708.7,620.1 L1709.7,614.7 L1710.7,609.5 L1711.7,604.6 L1712.7,600.1 L1713.7,596.0 L1714.7,592.4 L1715.7,588.9 L1716.7,585.0 L1717.7,580.6 L1718.7,576.0 L1719.7,571.4 L1720.7,566.8 L1721.7,562.4 L1722.7,558.1 L1723.7,553.8 L1724.7,549.5 L1725.7,545.3 L1726.7,541.3 L1727.7,537.5 L1728.7,533.7 L1729.7,529.6 L1730.7,525.1 L1731.7,520.4 L1732.7,515.1 L1733.7,508.4 L1734.7,497.2 L1735.7,491.5 L1736.7,488.0 L1737.7,485.4 L1738.7,483.2 L1739.7,481.3 L1740.7,479.8 L1741.7,478.4 L1742.7,476.9 L1743.7,475.5 L1744.7,474.3 L1745.7,473.3 L1746.7,472.8 L1747.7,472.8 L1748.7,472.9 L1749.7,473.2 L1750.7,473.4 L1751.7,473.8 L1752.7,474.1 L1753.7,474.6 L1754.7,475.4 L1755.7,476.2 L1756.7,476.9 L1757.7,477.4 L1758.7,477.8 L1759.7,478.2 L1760.7,478.4 L1761.7,478.5 L1762.7,478.1 L1763.7,477.5 L1764.7,476.6 L1765.7,475.7 L1766.7,474.5 L1767.7,472.7 L1768.7,470.8 L1769.7,469.0 L1770.7,467.3 L1771.7,465.4 L1772.7,463.7 L1773.7,462.7 L1774.7,462.1 L1775.7,461.6 L1776.7,461.3 L1777.7,461.1 L1778.7,461.3 L1779.7,461.9 L1780.7,462.8 L1781.7,463.8 L1782.7,464.8 L1783.7,465.9 L1784.7,467.1 L1785.7,468.3 L1786.7,469.1 L1787.7,470.0 L1788.7,470.8 L1789.7,471.3 L1790.7,471.4 L1791.7,470.9 L1792.7,470.2 L1793.7,469.2 L1794.7,468.0 L1795.7,465.9 L1796.7,463.3 L1797.7,460.5 L1798.7,457.4 L1799.7,453.9 L1800.7,450.7 L1801.7,448.1 L1802.7,445.7 L1803.7,443.7 L1804.7,441.8 L1805.7,440.1 L1806.7,438.9 L1807.7,438.1 L1808.7,437.4 L1809.7,436.8 L1810.7,436.3 L1811.7,436.1 L1812.7,436.1 L1813.7,436.3 L1814.7,436.5 L1815.7,436.7 L1816.7,436.7 L1817.7,436.4 L1818.7,435.8 L1819.7,435.1 L1820.7,434.2 L1821.7,433.0 L1822.7,431.4 L1823.7,429.6 L1824.7,427.8 L1825.7,425.7 L1826.7,423.6 L1827.7,421.5 L1828.7,419.7 L1829.7,418.1 L1830.7,416.5 L1831.7,415.3 L1832.7,414.4 L1833.7,413.6 L1834.7,413.0 L1835.7,412.8 L1836.7,412.8 L1837.7,412.8 L1838.7,412.8 L1839.7,412.8 L1840.7,412.8 L1841.7,412.8 L1842.7,412.8 L1843.7,412.8 L1844.7,412.8 L1845.7,413.0 L1846.7,413.4 L1847.7,413.8 L1848.7,414.3 L1849.7,414.9 L1850.7,415.4 L1851.7,415.8 L1852.7,416.2 L1853.7,416.7 L1854.7,417.1 L1855.7,417.6 L1856.7,418.0 L1857.7,418.5 L1858.7,418.9 L1859.7,419.3 L1860.7,419.7 L1861.7,420.1 L1862.7,420.5 L1863.7,420.8 L1864.7,421.1 L1865.7,421.4 L1866.7,421.6 L1867.7,421.9 L1868.7,422.1 L1869.7,422.3 L1870.7,422.5 L1871.7,422.7 L1872.7,422.9 L1873.7,423.1 L1874.7,423.3 L1875.7,423.5 L1876.7,423.7 L1877.7,423.8 L1878.7,424.0 L1879.7,424.1 L1880.7,424.3 L1881.7,424.5 L1882.7,424.6 L1883.7,424.8 L1884.7,424.9 L1885.7,425.1 L1886.7,425.2 L1887.7,425.3 L1888.7,425.5 L1889.7,425.6 L1890.7,425.7 L1891.7,425.8 L1892.7,426.0 L1893.7,426.1 L1894.7,426.2 L1895.7,426.3 L1896.7,426.3 L1897.7,426.4 L1898.7,426.5 L1899.7,426.6 L1900.7,426.7 L1901.7,426.8 L1902.7,426.9 L1903.7,426.9 L1904.7,427.0 L1905.7,427.1 L1906.7,427.1 L1907.7,427.2 L1908.7,427.2 L1909.7,427.2 L1910.7,427.3 L1911.7,427.3 L1912.7,427.3 L1913.7,427.3 L1914.7,427.3 L1915.7,427.4 L1916.7,427.4 L1917.7,427.4 L1918.7,427.4 L1919.7,427.4 L1920.7,427.5 L1921.7,427.5 L1922.7,427.5 L1923.7,427.5 L1924.7,427.5 L1925.7,427.5 L1926.7,427.5 L1927.7,427.5 L1928.7,427.5 L1929.7,427.5 L1930.7,427.5 L1931.7,427.5 L1932.7,427.5 L1933.7,427.5 L1934.7,427.4 L1935.7,427.4 L1936.7,427.4 L1937.7,427.4 L1938.7,427.4 L1939.7,427.3 L1940.7,427.3 L1941.7,427.3 L1942.7,427.2 L1943.7,427.2 L1944.7,427.2 L1945.7,427.1 L1946.7,427.1 L1947.7,427.1 L1948.7,427.0 L1949.7,427.0 L1950.7,426.9 L1951.7,426.9 L1952.7,426.8 L1953.7,426.7 L1954.7,426.6 L1955.7,426.4 L1956.7,426.2 L1957.7,426.1 L1958.7,425.8 L1959.7,425.6 L1960.7,425.4 L1961.7,425.2 L1962.7,425.0 L1963.7,424.7 L1964.7,424.5 L1965.7,424.3 L1966.7,424.1 L1967.7,423.9 L1968.7,423.7 L1969.7,423.5 L1970.7,423.3 L1971.7,423.0 L1972.7,422.8 L1973.7,422.6 L1974.7,422.4 L1975.7,422.2 L1976.7,421.9 L1977.7,421.7 L1978.7,421.5 L1979.7,421.2 L1980.7,421.0 L1981.7,420.7 L1982.7,420.5 L1983.7,420.2 L1984.7,420.0 L1985.7,419.7 L1986.7,419.5 L1987.7,419.2 L1988.7,419.0 L1989.7,418.7 L1990.7,418.4 L1991.7,418.1 L1992.7,417.8 L1993.7,417.5 L1994.7,417.2 L1995.7,416.9 L1996.7,416.6 L1997.7,416.3 L1998.7,416.0 L1999.7,415.7 L2000.7,415.4 L2001.7,415.1 L2002.7,414.7 L2003.7,414.4 L2004.7,414.1 L2005.7,413.8 L2006.7,413.5 L2007.7,413.2 L2008.7,412.9 L2009.7,412.6 L2010.7,412.3 L2011.7,412.0 L2012.7,411.7 L2013.7,411.4 L2014.7,411.1 L2015.7,410.7 L2016.7,410.4 L2017.7,410.1 L2018.7,409.8 L2019.7,409.5 L2020.7,409.2 L2021.7,409.0 L2022.7,408.7 L2023.7,408.4 L2024.7,408.1 L2025.7,407.8 L2026.7,407.5 L2027.7,407.2 L2028.7,406.9 L2029.7,406.6 L2030.7,406.3 L2031.7,406.0 L2032.7,405.8 L2033.7,405.5 L2034.7,405.2 L2035.7,404.9 L2036.7,404.6 L2037.7,404.3 L2038.7,404.0 L2039.7,403.8 L2040.7,403.5 L2041.7,403.2 L2042.7,402.9 L2043.7,402.6 L2044.7,402.4 L2045.7,402.1 L2046.7,401.8 L2047.7,401.5 L2048.7,401.3 L2049.3,401.1" stroke="#ff0000" stroke-width="4.1"/>
<g stroke="#ff0000" stroke-width="4.3">
<circle cx="195.7" cy="1139.0" r="17.2"/>
<circle cx="257.4" cy="1172.8" r="17.2"/>
<circle cx="319.2" cy="1198.3" r="17.2"/>
<circle cx="381.0" cy="1214.0" r="17.2"/>
<circle cx="442.9" cy="1224.3" r="17.2"/>
<circle cx="504.7" cy="1234.0" r="17.2"/>
<circle cx="566.5" cy="1262.5" r="17.2"/>
<circle cx="628.4" cy="1297.6" r="17.2"/>
<circle cx="690.2" cy="1346.9" r="17.2"/>
<circle cx="752.0" cy="1394.2" r="17.2"/>
<circle cx="813.9" cy="1427.3" r="17.2"/>
<circle cx="875.7" cy="1442.5" r="17.2"/>
<circle cx="937.5" cy="1430.7" r="17.2"/>
<circle cx="999.4" cy="1381.7" r="17.2"/>
<circle cx="1061.2" cy="1312.1" r="17.2"/>
<circle cx="1123.0" cy="1222.4" r="17.2"/>
<circle cx="1184.9" cy="1172.9" r="17.2"/>
<circle cx="1246.7" cy="1138.4" r="17.2"/>
<circle cx="1308.5" cy="1109.2" r="17.2"/>
<circle cx="1370.4" cy="1065.6" r="17.2"/>
<circle cx="1432.2" cy="1023.5" r="17.2"/>
<circle cx="1494.0" cy="839.6" r="17.2"/>
<circle cx="1555.9" cy="986.1" r="17.2"/>
<circle cx="1617.7" cy="893.5" r="17.2"/>
<circle cx="1679.5" cy="755.9" r="17.2"/>
<circle cx="1741.4" cy="478.8" r="17.2"/>
<circle cx="1803.2" cy="444.7" r="17.2"/>
<circle cx="1865.0" cy="421.2" r="17.2"/>
<circle cx="1926.9" cy="427.5" r="17.2"/>
<circle cx="1988.7" cy="418.9" r="17.2"/>
</g>
<path d="M195.7,1139.0 L196.7,1139.6 L197.7,1140.2 L198.7,1140.8 L199.7,1141.4 L200.7,1142.1 L201.7,1142.7 L202.7,1143.3 L203.7,1143.9 L204.7,1144.5 L205.7,1145.1 L206.7,1145.7 L207.7,1146.2 L208.7,1146.8 L209.7,1147.4 L210.7,1148.0 L211.7,1148.6 L212.7,1149.2 L213.7,1149.8 L214.7,1150.3 L215.7,1150.9 L216.7,1151.5 L217.7,1152.1 L218.7,1152.6 L219.7,1153.2 L220.7,1153.8 L221.7,1154.3 L222.7,1154.9 L223.7,1155.4 L224.7,1156.0 L225.7,1156.5 L226.7,1157.1 L227.7,1157.6 L228.7,1158.2 L229.7,1158.7 L230.7,1159.3 L231.7,1159.8 L232.7,1160.4 L233.7,1160.9 L234.7,1161.4 L235.7,1161.9 L236.7,1162.5 L237.7,1163.0 L238.7,1163.5 L239.7,1164.0 L240.7,1164.6 L241.7,1165.1 L242.7,1165.6 L243.7,1166.1 L244.7,1166.6 L245.7,1167.1 L246.7,1167.6 L247.7,1168.1 L248.7,1168.6 L249.7,1169.1 L250.7,1169.6 L251.7,1170.1 L252.7,1170.6 L253.7,1171.0 L254.7,1171.5 L255.7,1172.0 L256.7,1172.5 L257.7,1172.9 L258.7,1173.4 L259.7,1173.9 L260.7,1174.4 L261.7,1174.8 L262.7,1175.3 L263.7,1175.8 L264.7,1176.2 L265.7,1176.7 L266.7,1177.2 L267.7,1177.6 L268.7,1178.1 L269.7,1178.5 L270.7,1179.0 L271.7,1179.5 L272.7,1179.9 L273.7,1180.4 L274.7,1180.8 L275.7,1181.3 L276.7,1181.7 L277.7,1182.2 L278.7,1182.6 L279.7,1183.1 L280.7,1183.5 L281.7,1183.9 L282.7,1184.4 L283.7,1184.8 L284.7,1185.2 L285.7,1185.7 L286.7,1186.1 L287.7,1186.5 L288.7,1187.0 L289.7,1187.4 L290.7,1187.8 L291.7,1188.2 L292.7,1188.6 L293.7,1189.0 L294.7,1189.4 L295.7,1189.8 L296.7,1190.2 L297.7,1190.6 L298.7,1191.0 L299.7,1191.4 L300.7,1191.8 L301.7,1192.2 L302.7,1192.6 L303.7,1193.0 L304.7,1193.3 L305.7,1193.7 L306.7,1194.1 L307.7,1194.4 L308.7,1194.8 L309.7,1195.2 L310.7,1195.5 L311.7,1195.9 L312.7,1196.2 L313.7,1196.5 L314.7,1196.9 L315.7,1197.2 L316.7,1197.5 L317.7,1197.9 L318.7,1198.2 L319.7,1198.5 L320.7,1198.8 L321.7,1199.1 L322.7,1199.4 L323.7,1199.7 L324.7,1200.0 L325.7,1200.3 L326.7,1200.6 L327.7,1200.9 L328.7,1201.2 L329.7,1201.5 L330.7,1201.8 L331.7,1202.1 L332.7,1202.4 L333.7,1202.7 L334.7,1202.9 L335.7,1203.2 L336.7,1203.5 L337.7,1203.8 L338.7,1204.0 L339.7,1204.3 L340.7,1204.6 L341.7,1204.8 L342.7,1205.1 L343.7,1205.4 L344.7,1205.6 L345.7,1205.9 L346.7,1206.2 L347.7,1206.4 L348.7,1206.7 L349.7,1206.9 L350.7,1207.2 L351.7,1207.4 L352.7,1207.7 L353.7,1207.9 L354.7,1208.2 L355.7,1208.4 L356.7,1208.6 L357.7,1208.9 L358.7,1209.1 L359.7,1209.3 L360.7,1209.6 L361.7,1209.8 L362.7,1210.0 L363.7,1210.3 L364.7,1210.5 L365.7,1210.7 L366.7,1210.9 L367.7,1211.2 L368.7,1211.4 L369.7,1211.6 L370.7,1211.8 L371.7,1212.0 L372.7,1212.2 L373.7,1212.5 L374.7,1212.7 L375.7,1212.9 L376.7,1213.1 L377.7,1213.3 L378.7,1213.5 L379.7,1213.7 L380.7,1213.9 L381.7,1214.1 L382.7,1214.3 L383.7,1214.5 L384.7,1214.7 L385.7,1214.9 L386.7,1215.1 L387.7,1215.3 L388.7,1215.5 L389.7,1215.6 L390.7,1215.8 L391.7,1216.0 L392.7,1216.2 L393.7,1216.4 L394.7,1216.6 L395.7,1216.7 L396.7,1216.9 L397.7,1217.1 L398.7,1217.3 L399.7,1217.5 L400.7,1217.6 L401.7,1217.8 L402.7,1218.0 L403.7,1218.1 L404.7,1218.3 L405.7,1218.5 L406.7,1218.6 L407.7,1218.8 L408.7,1219.0 L409.7,1219.1 L410.7,1219.3 L411.7,1219.5 L412.7,1219.6 L413.7,1219.8 L414.7,1219.9 L415.7,1220.1 L416.7,1220.3 L417.7,1220.4 L418.7,1220.6 L419.7,1220.7 L420.7,1220.9 L421.7,1221.0 L422.7,1221.2 L423.7,1221.4 L424.7,1221.5 L425.7,1221.7 L426.7,1221.8 L427.7,1222.0 L428.7,1222.1 L429.7,1222.3 L430.7,1222.4 L431.7,1222.6 L432.7,1222.7 L433.7,1222.9 L434.7,1223.0 L435.7,1223.2 L436.7,1223.3 L437.7,1223.5 L438.7,1223.6 L439.7,1223.8 L440.7,1223.9 L441.7,1224.1 L442.7,1224.2 L443.7,1224.4 L444.7,1224.5 L445.7,1224.7 L446.7,1224.8 L447.7,1225.0 L448.7,1225.1 L449.7,1225.2 L450.7,1225.4 L451.7,1225.5 L452.7,1225.6 L453.7,1225.7 L454.7,1225.9 L455.7,1226.0 L456.7,1226.1 L457.7,1226.2 L458.7,1226.3 L459.7,1226.5 L460.7,1226.6 L461.7,1226.7 L462.7,1226.8 L463.7,1226.9 L464.7,1227.0 L465.7,1227.1 L466.7,1227.2 L467.7,1227.4 L468.7,1227.5 L469.7,1227.6 L470.7,1227.7 L471.7,1227.8 L472.7,1227.9 L473.7,1228.0 L474.7,1228.2 L475.7,1228.3 L476.7,1228.4 L477.7,1228.5 L478.7,1228.6 L479.7,1228.8 L480.7,1228.9 L481.7,1229.0 L482.7,1229.1 L483.7,1229.3 L484.7,1229.4 L485.7,1229.5 L486.7,1229.7 L487.7,1229.8 L488.7,1230.0 L489.7,1230.1 L490.7,1230.3 L491.7,1230.4 L492.7,1230.6 L493.7,1230.7 L494.7,1230.9 L495.7,1231.1 L496.7,1231.2 L497.7,1231.4 L498.7,1231.6 L499.7,1231.8 L500.7,1232.0 L501.7,1232.1 L502.7,1232.3 L503.7,1232.5 L504.7,1232.8 L505.7,1233.0 L506.7,1233.2 L507.7,1233.5 L508.7,1233.7 L509.7,1234.0 L510.7,1234.3 L511.7,1234.6 L512.7,1234.9 L513.7,1235.2 L514.7,1235.5 L515.7,1235.9 L516.7,1236.2 L517.7,1236.6 L518.7,1237.0 L519.7,1237.4 L520.7,1237.8 L521.7,1238.2 L522.7,1238.6 L523.7,1239.0 L524.7,1239.5 L525.7,1239.9 L526.7,1240.4 L527.7,1240.8 L528.7,1241.3 L529.7,1241.8 L530.7,1242.3 L531.7,1242.7 L532.7,1243.2 L533.7,1243.7 L534.7,1244.2 L535.7,1244.8 L536.7,1245.3 L537.7,1245.8 L538.7,1246.3 L539.7,1246.8 L540.7,1247.4 L541.7,1247.9 L542.7,1248.5 L543.7,1249.0 L544.7,1249.5 L545.7,1250.1 L546.7,1250.6 L547.7,1251.2 L548.7,1251.7 L549.7,1252.3 L550.7,1252.8 L551.7,1253.4 L552.7,1253.9 L553.7,1254.5 L554.7,1255.0 L555.7,1255.6 L556.7,1256.1 L557.7,1256.7 L558.7,1257.2 L559.7,1257.7 L560.7,1258.3 L561.7,1258.8 L562.7,1259.3 L563.7,1259.9 L564.7,1260.4 L565.7,1260.9 L566.7,1261.4 L567.7,1261.9 L568.7,1262.4 L569.7,1262.9 L570.7,1263.4 L571.7,1264.0 L572.7,1264.5 L573.7,1265.0 L574.7,1265.5 L575.7,1266.0 L576.7,1266.5 L577.7,1267.1 L578.7,1267.6 L579.7,1268.1 L580.7,1268.6 L581.7,1269.2 L582.7,1269.7 L583.7,1270.2 L584.7,1270.7 L585.7,1271.3 L586.7,1271.8 L587.7,1272.3 L588.7,1272.9 L589.7,1273.4 L590.7,1274.0 L591.7,1274.5 L592.7,1275.1 L593.7,1275.6 L594.7,1276.2 L595.7,1276.7 L596.7,1277.3 L597.7,1277.8 L598.7,1278.4 L599.7,1278.9 L600.7,1279.5 L601.7,1280.1 L602.7,1280.7 L603.7,1281.2 L604.7,1281.8 L605.7,1282.4 L606.7,1283.0 L607.7,1283.5 L608.7,1284.1 L609.7,1284.7 L610.7,1285.3 L611.7,1285.9 L612.7,1286.5 L613.7,1287.1 L614.7,1287.7 L615.7,1288.3 L616.7,1289.0 L617.7,1289.6 L618.7,1290.2 L619.7,1290.8 L620.7,1291.5 L621.7,1292.1 L622.7,1292.7 L623.7,1293.4 L624.7,1294.0 L625.7,1294.7 L626.7,1295.3 L627.7,1296.0 L628.7,1296.6 L629.7,1297.3 L630.7,1298.0 L631.7,1298.7 L632.7,1299.4 L633.7,1300.1 L634.7,1300.8 L635.7,1301.5 L636.7,1302.2 L637.7,1303.0 L638.7,1303.7 L639.7,1304.4 L640.7,1305.2 L641.7,1306.0 L642.7,1306.7 L643.7,1307.5 L644.7,1308.3 L645.7,1309.1 L646.7,1309.8 L647.7,1310.6 L648.7,1311.4 L649.7,1312.2 L650.7,1313.0 L651.7,1313.9 L652.7,1314.7 L653.7,1315.5 L654.7,1316.3 L655.7,1317.1 L656.7,1318.0 L657.7,1318.8 L658.7,1319.6 L659.7,1320.4 L660.7,1321.3 L661.7,1322.1 L662.7,1323.0 L663.7,1323.8 L664.7,1324.6 L665.7,1325.5 L666.7,1326.3 L667.7,1327.2 L668.7,1328.0 L669.7,1328.8 L670.7,1329.7 L671.7,1330.5 L672.7,1331.4 L673.7,1332.2 L674.7,1333.0 L675.7,1333.9 L676.7,1334.7 L677.7,1335.5 L678.7,1336.4 L679.7,1337.2 L680.7,1338.0 L681.7,1338.8 L682.7,1339.6 L683.7,1340.5 L684.7,1341.3 L685.7,1342.1 L686.7,1342.9 L687.7,1343.7 L688.7,1344.5 L689.7,1345.3 L690.7,1346.0 L691.7,1346.8 L692.7,1347.6 L693.7,1348.4 L694.7,1349.2 L695.7,1350.0 L696.7,1350.8 L697.7,1351.6 L698.7,1352.4 L699.7,1353.2 L700.7,1354.0 L701.7,1354.8 L702.7,1355.6 L703.7,1356.4 L704.7,1357.2 L705.7,1358.0 L706.7,1358.8 L707.7,1359.7 L708.7,1360.5 L709.7,1361.3 L710.7,1362.1 L711.7,1362.9 L712.7,1363.7 L713.7,1364.5 L714.7,1365.3 L715.7,1366.1 L716.7,1366.9 L717.7,1367.7 L718.7,1368.5 L719.7,1369.3 L720.7,1370.1 L721.7,1370.9 L722.7,1371.7 L723.7,1372.5 L724.7,1373.3 L725.7,1374.1 L726.7,1374.9 L727.7,1375.7 L728.7,1376.4 L729.7,1377.2 L730.7,1378.0 L731.7,1378.7 L732.7,1379.5 L733.7,1380.2 L734.7,1381.0 L735.7,1381.7 L736.7,1382.5 L737.7,1383.2 L738.7,1383.9 L739.7,1384.6 L740.7,1385.4 L741.7,1386.1 L742.7,1386.8 L743.7,1387.5 L744.7,1388.2 L745.7,1388.8 L746.7,1389.5 L747.7,1390.2 L748.7,1390.8 L749.7,1391.5 L750.7,1392.1 L751.7,1392.8 L752.7,1393.4 L753.7,1394.0 L754.7,1394.7 L755.7,1395.3 L756.7,1395.9 L757.7,1396.6 L758.7,1397.2 L759.7,1397.8 L760.7,1398.4 L761.7,1399.1 L762.7,1399.7 L763.7,1400.3 L764.7,1400.9 L765.7,1401.6 L766.7,1402.2 L767.7,1402.8 L768.7,1403.4 L769.7,1404.0 L770.7,1404.6 L771.7,1405.2 L772.7,1405.8 L773.7,1406.5 L774.7,1407.0 L775.7,1407.6 L776.7,1408.2 L777.7,1408.8 L778.7,1409.4 L779.7,1410.0 L780.7,1410.6 L781.7,1411.1 L782.7,1411.7 L783.7,1412.3 L784.7,1412.8 L785.7,1413.4 L786.7,1413.9 L787.7,1414.4 L788.7,1415.0 L789.7,1415.5 L790.7,1416.0 L791.7,1416.6 L792.7,1417.1 L793.7,1417.6 L794.7,1418.1 L795.7,1418.6 L796.7,1419.0 L797.7,1419.5 L798.7,1420.0 L799.7,1420.4 L800.7,1420.9 L801.7,1421.3 L802.7,1421.8 L803.7,1422.2 L804.7,1422.6 L805.7,1423.0 L806.7,1423.4 L807.7,1423.8 L808.7,1424.2 L809.7,1424.6 L810.7,1425.0 L811.7,1425.3 L812.7,1425.7 L813.7,1426.0 L814.7,1426.3 L815.7,1426.7 L816.7,1427.0 L817.7,1427.3 L818.7,1427.7 L819.7,1428.0 L820.7,1428.3 L821.7,1428.7 L822.7,1429.0 L823.7,1429.3 L824.7,1429.7 L825.7,1430.0 L826.7,1430.3 L827.7,1430.7 L828.7,1431.0 L829.7,1431.3 L830.7,1431.7 L831.7,1432.0 L832.7,1432.3 L833.7,1432.6 L834.7,1432.9 L835.7,1433.3 L836.7,1433.6 L837.7,1433.9 L838.7,1434.2 L839.7,1434.5 L840.7,1434.8 L841.7,1435.1 L842.7,1435.4 L843.7,1435.6 L844.7,1435.9 L845.7,1436.2 L846.7,1436.5 L847.7,1436.7 L848.7,1437.0 L849.7,1437.2 L850.7,1437.5 L851.7,1437.7 L852.7,1437.9 L853.7,1438.2 L854.7,1438.4 L855.7,1438.6 L856.7,1438.8 L857.7,1439.0 L858.7,1439.2 L859.7,1439.3 L860.7,1439.5 L861.7,1439.7 L862.7,1439.8 L863.7,1439.9 L864.7,1440.1 L865.7,1440.2 L866.7,1440.3 L867.7,1440.4 L868.7,1440.5 L869.7,1440.6 L870.7,1440.6 L871.7,1440.7 L872.7,1440.7 L873.7,1440.8 L874.7,1440.8 L875.7,1440.8 L876.7,1440.8 L877.7,1440.8 L878.7,1440.8 L879.7,1440.7 L880.7,1440.7 L881.7,1440.6 L882.7,1440.6 L883.7,1440.5 L884.7,1440.4 L885.7,1440.3 L886.7,1440.2 L887.7,1440.1 L888.7,1440.0 L889.7,1439.9 L890.7,1439.8 L891.7,1439.6 L892.7,1439.5 L893.7,1439.3 L894.7,1439.1 L895.7,1439.0 L896.7,1438.8 L897.7,1438.6 L898.7,1438.4 L899.7,1438.2 L900.7,1438.0 L901.7,1437.8 L902.7,1437.6 L903.7,1437.3 L904.7,1437.1 L905.7,1436.9 L906.7,1436.6 L907.7,1436.4 L908.7,1436.1 L909.7,1435.9 L910.7,1435.6 L911.7,1435.3 L912.7,1435.0 L913.7,1434.8 L914.7,1434.5 L915.7,1434.2 L916.7,1433.9 L917.7,1433.6 L918.7,1433.3 L919.7,1433.0 L920.7,1432.7 L921.7,1432.4 L922.7,1432.0 L923.7,1431.7 L924.7,1431.4 L925.7,1431.1 L926.7,1430.7 L927.7,1430.4 L928.7,1430.1 L929.7,1429.7 L930.7,1429.4 L931.7,1429.0 L932.7,1428.7 L933.7,1428.3 L934.7,1428.0 L935.7,1427.6 L936.7,1427.3 L937.7,1426.9 L938.7,1426.6 L939.7,1426.2 L940.7,1425.7 L941.7,1425.3 L942.7,1424.8 L943.7,1424.3 L944.7,1423.8 L945.7,1423.3 L946.7,1422.7 L947.7,1422.1 L948.7,1421.5 L949.7,1420.9 L950.7,1420.3 L951.7,1419.6 L952.7,1418.9 L953.7,1418.2 L954.7,1417.5 L955.7,1416.8 L956.7,1416.0 L957.7,1415.3 L958.7,1414.5 L959.7,1413.7 L960.7,1412.9 L961.7,1412.0 L962.7,1411.2 L963.7,1410.3 L964.7,1409.5 L965.7,1408.6 L966.7,1407.7 L967.7,1406.8 L968.7,1405.9 L969.7,1404.9 L970.7,1404.0 L971.7,1403.0 L972.7,1402.1 L973.7,1401.1 L974.7,1400.1 L975.7,1399.1 L976.7,1398.1 L977.7,1397.1 L978.7,1396.1 L979.7,1395.1 L980.7,1394.0 L981.7,1393.0 L982.7,1392.0 L983.7,1390.9 L984.7,1389.9 L985.7,1388.8 L986.7,1387.8 L987.7,1386.7 L988.7,1385.6 L989.7,1384.6 L990.7,1383.5 L991.7,1382.4 L992.7,1381.4 L993.7,1380.3 L994.7,1379.2 L995.7,1378.2 L996.7,1377.1 L997.7,1376.0 L998.7,1375.0 L999.7,1373.9 L1000.7,1372.8 L1001.7,1371.7 L1002.7,1370.6 L1003.7,1369.5 L1004.7,1368.3 L1005.7,1367.2 L1006.7,1366.0 L1007.7,1364.8 L1008.7,1363.6 L1009.7,1362.3 L1010.7,1361.1 L1011.7,1359.8 L1012.7,1358.5 L1013.7,1357.3 L1014.7,1355.9 L1015.7,1354.6 L1016.7,1353.3 L1017.7,1351.9 L1018.7,1350.6 L1019.7,1349.2 L1020.7,1347.8 L1021.7,1346.4 L1022.7,1344.9 L1023.7,1343.5 L1024.7,1342.1 L1025.7,1340.6 L1026.7,1339.1 L1027.7,1337.6 L1028.7,1336.1 L1029.7,1334.6 L1030.7,1333.1 L1031.7,1331.6 L1032.7,1330.0 L1033.7,1328.5 L1034.7,1326.9 L1035.7,1325.3 L1036.7,1323.6 L1037.7,1321.9 L1038.7,1320.1 L1039.7,1318.3 L1040.7,1316.5 L1041.7,1314.6 L1042.7,1312.7 L1043.7,1310.8 L1044.7,1308.8 L1045.7,1306.7 L1046.7,1304.5 L1047.7,1302.3 L1048.7,1300.1 L1049.7,1297.9 L1050.7,1295.6 L1051.7,1293.5 L1052.7,1291.4 L1053.7,1289.4 L1054.7,1287.5 L1055.7,1285.7 L1056.7,1283.8 L1057.7,1282.0 L1058.7,1280.2 L1059.7,1278.3 L1060.7,1276.4 L1061.7,1274.4 L1062.7,1272.3 L1063.7,1270.2 L1064.7,1268.0 L1065.7,1265.7 L1066.7,1263.3 L1067.7,1260.8 L1068.7,1258.2 L1069.7,1255.6 L1070.7,1252.9 L1071.7,1250.1 L1072.7,1247.2 L1073.7,1244.3 L1074.7,1241.3 L1075.7,1238.2 L1076.7,1235.1 L1077.7,1231.9 L1078.7,1228.7 L1079.7,1225.4 L1080.7,1222.1 L1081.7,1218.6 L1082.7,1215.1 L1083.7,1211.5 L1084.7,1207.8 L1085.7,1204.0 L1086.7,1200.2 L1087.7,1196.2 L1088.7,1192.1 L1089.7,1187.9 L1090.7,1183.6 L1091.7,1178.9 L1092.7,1174.1 L1093.7,1169.2 L1094.7,1164.4 L1095.7,1159.8 L1096.7,1155.2 L1097.7,1150.6 L1098.7,1146.3 L1099.7,1142.3 L1100.7,1138.7 L1101.7,1135.4 L1102.7,1132.2 L1103.7,1129.3 L1104.7,1126.5 L1105.7,1124.0 L1106.7,1121.6 L1107.7,1119.4 L1108.7,1117.3 L1109.7,1115.3 L1110.7,1113.4 L1111.7,1111.6 L1112.7,1109.8 L1113.7,1108.1 L1114.7,1106.5 L1115.7,1104.9 L1116.7,1103.3 L1117.7,1101.8 L1118.7,1100.4 L1119.7,1098.9 L1120.7,1097.5 L1121.7,1096.1 L1122.7,1094.7 L1123.7,1093.3 L1124.7,1091.9 L1125.7,1090.5 L1126.7,1089.1 L1127.7,1087.7 L1128.7,1086.3 L1129.7,1084.9 L1130.7,1083.5 L1131.7,1082.2 L1132.7,1080.9 L1133.7,1079.6 L1134.7,1078.3 L1135.7,1077.0 L1136.7,1075.8 L1137.7,1074.5 L1138.7,1073.3 L1139.7,1072.1 L1140.7,1070.9 L1141.7,1069.7 L1142.7,1068.6 L1143.7,1067.4 L1144.7,1066.3 L1145.7,1065.1 L1146.7,1064.0 L1147.7,1062.9 L1148.7,1061.8 L1149.7,1060.6 L1150.7,1059.5 L1151.7,1058.4 L1152.7,1057.3 L1153.7,1056.2 L1154.7,1055.0 L1155.7,1053.9 L1156.7,1052.8 L1157.7,1051.7 L1158.7,1050.6 L1159.7,1049.5 L1160.7,1048.4 L1161.7,1047.3 L1162.7,1046.2 L1163.7,1045.1 L1164.7,1044.1 L1165.7,1043.0 L1166.7,1041.9 L1167.7,1040.8 L1168.7,1039.7 L1169.7,1038.6 L1170.7,1037.5 L1171.7,1036.4 L1172.7,1035.3 L1173.7,1034.2 L1174.7,1033.0 L1175.7,1031.9 L1176.7,1030.7 L1177.7,1029.6 L1178.7,1028.4 L1179.7,1027.2 L1180.7,1026.1 L1181.7,1024.9 L1182.7,1023.8 L1183.7,1022.6 L1184.7,1021.5 L1185.7,1020.4 L1186.7,1019.2 L1187.7,1018.1 L1188.7,1016.9 L1189.7,1015.8 L1190.7,1014.6 L1191.7,1013.5 L1192.7,1012.4 L1193.7,1011.3 L1194.7,1010.3 L1195.7,1009.3 L1196.7,1008.3 L1197.7,1007.3 L1198.7,1006.4 L1199.7,1005.6 L1200.7,1004.7 L1201.7,1003.9 L1202.7,1003.1 L1203.7,1002.3 L1204.7,1001.5 L1205.7,1000.7 L1206.7,999.9 L1207.7,999.1 L1208.7,998.4 L1209.7,997.6 L1210.7,996.8 L1211.7,996.0 L1212.7,995.2 L1213.7,994.4 L1214.7,993.5 L1215.7,992.7 L1216.7,991.8 L1217.7,991.0 L1218.7,990.1 L1219.7,989.3 L1220.7,988.4 L1221.7,987.6 L1222.7,986.8 L1223.7,986.0 L1224.7,985.2 L1225.7,984.5 L1226.7,983.8 L1227.7,983.1 L1228.7,982.4 L1229.7,981.7 L1230.7,981.1 L1231.7,980.5 L1232.7,979.9 L1233.7,979.3 L1234.7,978.7 L1235.7,978.1 L1236.7,977.5 L1237.7,976.9 L1238.7,976.4 L1239.7,975.8 L1240.7,975.3 L1241.7,974.7 L1242.7,974.2 L1243.7,973.6 L1244.7,973.0 L1245.7,972.5 L1246.7,971.9 L1247.7,971.3 L1248.7,970.8 L1249.7,970.2 L1250.7,969.6 L1251.7,969.1 L1252.7,968.5 L1253.7,967.9 L1254.7,967.4 L1255.7,966.8 L1256.7,966.2 L1257.7,965.7 L1258.7,965.1 L1259.7,964.6 L1260.7,964.0 L1261.7,963.5 L1262.7,962.9 L1263.7,962.4 L1264.7,961.8 L1265.7,961.3 L1266.7,960.8 L1267.7,960.2 L1268.7,959.7 L1269.7,959.2 L1270.7,958.7 L1271.7,958.2 L1272.7,957.7 L1273.7,957.2 L1274.7,956.7 L1275.7,956.2 L1276.7,955.8 L1277.7,955.3 L1278.7,954.8 L1279.7,954.4 L1280.7,953.9 L1281.7,953.4 L1282.7,952.9 L1283.7,952.4 L1284.7,951.9 L1285.7,951.4 L1286.7,950.8 L1287.7,950.3 L1288.7,949.7 L1289.7,949.1 L1290.7,948.5 L1291.7,947.9 L1292.7,947.3 L1293.7,946.7 L1294.7,946.0 L1295.7,945.4 L1296.7,944.7 L1297.7,944.0 L1298.7,943.3 L1299.7,942.6 L1300.7,941.9 L1301.7,941.3 L1302.7,940.5 L1303.7,939.8 L1304.7,939.1 L1305.7,938.4 L1306.7,937.7 L1307.7,937.0 L1308.7,936.3 L1309.7,935.6 L1310.7,934.9 L1311.7,934.2 L1312.7,933.5 L1313.7,932.8 L1314.7,932.1 L1315.7,931.3 L1316.7,930.6 L1317.7,929.9 L1318.7,929.2 L1319.7,928.4 L1320.7,927.7 L1321.7,926.9 L1322.7,926.2 L1323.7,925.4 L1324.7,924.6 L1325.7,923.9 L1326.7,923.1 L1327.7,922.3 L1328.7,921.5 L1329.7,920.7 L1330.7,919.8 L1331.7,919.0 L1332.7,918.2 L1333.7,917.4 L1334.7,916.5 L1335.7,915.7 L1336.7,914.8 L1337.7,914.0 L1338.7,913.1 L1339.7,912.2 L1340.7,911.3 L1341.7,910.5 L1342.7,909.6 L1343.7,908.7 L1344.7,907.7 L1345.7,906.8 L1346.7,905.9 L1347.7,905.0 L1348.7,904.0 L1349.7,903.0 L1350.7,902.1 L1351.7,901.1 L1352.7,900.1 L1353.7,899.1 L1354.7,898.1 L1355.7,897.1 L1356.7,896.0 L1357.7,895.0 L1358.7,894.0 L1359.7,892.9 L1360.7,891.9 L1361.7,890.9 L1362.7,889.9 L1363.7,888.8 L1364.7,887.8 L1365.7,886.8 L1366.7,885.7 L1367.7,884.7 L1368.7,883.7 L1369.7,882.7 L1370.7,881.7 L1371.7,880.7 L1372.7,879.7 L1373.7,878.7 L1374.7,877.8 L1375.7,876.8 L1376.7,875.8 L1377.7,874.8 L1378.7,873.9 L1379.7,872.9 L1380.7,871.9 L1381.7,870.9 L1382.7,869.8 L1383.7,868.8 L1384.7,867.7 L1385.7,866.6 L1386.7,865.5 L1387.7,864.4 L1388.7,863.3 L1389.7,862.1 L1390.7,861.0 L1391.7,859.9 L1392.7,858.8 L1393.7,857.7 L1394.7,856.7 L1395.7,855.6 L1396.7,854.6 L1397.7,853.5 L1398.7,852.5 L1399.7,851.5 L1400.7,850.4 L1401.7,849.4 L1402.7,848.4 L1403.7,847.5 L1404.7,846.5 L1405.7,845.5 L1406.7,844.6 L1407.7,843.7 L1408.7,842.8 L1409.7,842.0 L1410.7,841.1 L1411.7,840.3 L1412.7,839.5 L1413.7,838.7 L1414.7,837.9 L1415.7,837.1 L1416.7,836.4 L1417.7,835.6 L1418.7,834.9 L1419.7,834.1 L1420.7,833.4 L1421.7,832.7 L1422.7,831.9 L1423.7,831.0 L1424.7,830.1 L1425.7,829.2 L1426.7,828.4 L1427.7,827.6 L1428.7,826.9 L1429.7,826.3 L1430.7,825.9 L1431.7,825.7 L1432.7,825.7 L1433.7,825.9 L1434.7,826.2 L1435.7,826.6 L1436.7,827.2 L1437.7,827.9 L1438.7,829.3 L1439.7,832.4 L1440.7,836.3 L1441.7,840.1 L1442.7,844.3 L1443.7,848.8 L1444.7,853.1 L1445.7,857.3 L1446.7,861.3 L1447.7,865.3 L1448.7,869.2 L1449.7,872.7 L1450.7,875.6 L1451.7,877.9 L1452.7,879.4 L1453.7,880.5 L1454.7,880.6 L1455.7,879.8 L1456.7,878.5 L1457.7,876.5 L1458.7,872.9 L1459.7,868.4 L1460.7,863.8 L1461.7,858.6 L1462.7,852.7 L1463.7,845.9 L1464.7,838.2 L1465.7,830.0 L1466.7,821.3 L1467.7,812.1 L1468.7,803.5 L1469.7,795.8 L1470.7,788.4 L1471.7,780.4 L1472.7,771.5 L1473.7,762.1 L1474.7,752.8 L1475.7,743.6 L1476.7,734.5 L1477.7,725.3 L1478.7,716.2 L1479.7,706.6 L1480.7,697.2 L1481.7,689.2 L1482.7,682.2 L1483.7,675.8 L1484.7,670.2 L1485.7,665.0 L1486.7,660.3 L1487.7,656.1 L1488.7,652.6 L1489.7,649.6 L1490.7,647.0 L1491.7,644.9 L1492.7,643.4 L1493.7,642.2 L1494.7,641.4 L1495.7,641.6 L1496.7,642.7 L1497.7,644.2 L1498.7,645.9 L1499.7,648.2 L1500.7,651.1 L1501.7,654.4 L1502.7,657.6 L1503.7,661.0 L1504.7,664.7 L1505.7,668.6 L1506.7,673.0 L1507.7,677.8 L1508.7,682.8 L1509.7,687.6 L1510.7,692.4 L1511.7,697.2 L1512.7,702.0 L1513.7,706.7 L1514.7,711.5 L1515.7,715.7 L1516.7,719.3 L1517.7,722.5 L1518.7,725.5 L1519.7,728.2 L1520.7,730.7 L1521.7,733.1 L1522.7,735.1 L1523.7,736.7 L1524.7,738.2 L1525.7,739.5 L1526.7,740.6 L1527.7,741.6 L1528.7,742.4 L1529.7,743.1 L1530.7,743.8 L1531.7,744.5 L1532.7,745.2 L1533.7,746.0 L1534.7,746.7 L1535.7,747.4 L1536.7,748.2 L1537.7,749.1 L1538.7,750.1 L1539.7,751.4 L1540.7,753.0 L1541.7,754.7 L1542.7,756.6 L1543.7,758.6 L1544.7,760.8 L1545.7,763.2 L1546.7,765.6 L1547.7,768.1 L1548.7,770.8 L1549.7,773.5 L1550.7,776.2 L1551.7,778.8 L1552.7,781.3 L1553.7,783.8 L1554.7,786.1 L1555.7,788.0 L1556.7,789.7 L1557.7,791.3 L1558.7,792.3 L1559.7,792.4 L1560.7,791.9 L1561.7,790.9 L1562.7,789.7 L1563.7,788.4 L1564.7,786.5 L1565.7,784.3 L1566.7,781.9 L1567.7,779.5 L1568.7,776.7 L1569.7,773.7 L1570.7,770.8 L1571.7,768.3 L1572.7,765.8 L1573.7,763.5 L1574.7,761.4 L1575.7,759.5 L1576.7,757.8 L1577.7,756.1 L1578.7,754.7 L1579.7,753.5 L1580.7,752.8 L1581.7,752.3 L1582.7,751.8 L1583.7,751.5 L1584.7,751.0 L1585.7,750.5 L1586.7,749.9 L1587.7,749.3 L1588.7,748.6 L1589.7,747.8 L1590.7,746.9 L1591.7,745.9 L1592.7,744.5 L1593.7,742.7 L1594.7,740.8 L1595.7,738.6 L1596.7,735.9 L1597.7,732.7 L1598.7,729.4 L1599.7,726.5 L1600.7,724.1 L1601.7,721.9 L1602.7,719.9 L1603.7,718.1 L1604.7,716.5 L1605.7,715.1 L1606.7,713.9 L1607.7,712.7 L1608.7,711.6 L1609.7,710.4 L1610.7,709.1 L1611.7,708.0 L1612.7,706.7 L1613.7,705.3 L1614.7,703.5 L1615.7,701.3 L1616.7,698.7 L1617.7,695.7 L1618.7,692.6 L1619.7,689.1 L1620.7,685.1 L1621.7,680.9 L1622.7,676.6 L1623.7,672.1 L1624.7,667.2 L1625.7,662.2 L1626.7,657.5 L1627.7,653.0 L1628.7,648.5 L1629.7,644.3 L1630.7,640.6 L1631.7,637.9 L1632.7,635.6 L1633.7,633.8 L1634.7,632.4 L1635.7,631.5 L1636.7,630.7 L1637.7,630.3 L1638.7,630.5 L1639.7,631.2 L1640.7,632.2 L1641.7,633.2 L1642.7,634.7 L1643.7,636.6 L1644.7,638.7 L1645.7,640.7 L1646.7,642.8 L1647.7,645.0 L1648.7,647.2 L1649.7,648.9 L1650.7,650.2 L1651.7,651.4 L1652.7,652.4 L1653.7,652.9 L1654.7,652.8 L1655.7,652.2 L1656.7,651.3 L1657.7,650.2 L1658.7,648.6 L1659.7,645.9 L1660.7,642.5 L1661.7,638.9 L1662.7,634.9 L1663.7,630.2 L1664.7,624.8 L1665.7,617.9 L1666.7,611.0 L1667.7,605.4 L1668.7,600.5 L1669.7,595.9 L1670.7,591.6 L1671.7,587.3 L1672.7,583.1 L1673.7,579.1 L1674.7,575.2 L1675.7,571.4 L1676.7,567.8 L1677.7,564.3 L1678.7,561.0 L1679.7,557.6 L1680.7,554.1 L1681.7,550.6 L1682.7,547.2 L1683.7,544.0 L1684.7,541.1 L1685.7,538.4 L1686.7,535.5 L1687.7,532.4 L1688.7,529.1 L1689.7,525.5 L1690.7,521.4 L1691.7,516.5 L1692.7,510.9 L1693.7,505.1 L1694.7,499.2 L1695.7,493.1 L1696.7,486.8 L1697.7,480.4 L1698.7,473.6 L1699.7,467.3 L1700.7,462.3 L1701.7,458.1 L1702.7,454.4 L1703.7,450.5 L1704.7,446.2 L1705.7,441.0 L1706.7,434.8 L1707.7,428.3 L1708.7,422.3 L1709.7,416.9 L1710.7,411.7 L1711.7,406.8 L1712.7,402.3 L1713.7,398.2 L1714.7,394.6 L1715.7,391.1 L1716.7,387.2 L1717.7,382.8 L1718.7,378.2 L1719.7,373.6 L1720.7,369.0 L1721.7,364.6 L1722.7,360.3 L1723.7,356.0 L1724.7,351.7 L1725.7,347.5 L1726.7,343.5 L1727.7,339.7 L1728.7,335.9 L1729.7,331.8 L1730.7,327.3 L1731.7,322.6 L1732.7,317.3 L1733.7,310.6 L1734.7,299.4 L1735.7,293.7 L1736.7,290.2 L1737.7,287.6 L1738.7,285.4 L1739.7,283.5 L1740.7,282.0 L1741.7,280.6 L1742.7,279.1 L1743.7,277.7 L1744.7,276.5 L1745.7,275.5 L1746.7,275.0 L1747.7,275.0 L1748.7,275.1 L1749.7,275.4 L1750.7,275.6 L1751.7,276.0 L1752.7,276.3 L1753.7,276.8 L1754.7,277.6 L1755.7,278.4 L1756.7,279.1 L1757.7,279.6 L1758.7,280.0 L1759.7,280.4 L1760.7,280.6 L1761.7,280.7 L1762.7,280.3 L1763.7,279.7 L1764.7,278.8 L1765.7,277.9 L1766.7,276.7 L1767.7,274.9 L1768.7,273.0 L1769.7,271.2 L1770.7,269.5 L1771.7,267.6 L1772.7,265.9 L1773.7,264.9 L1774.7,264.3 L1775.7,263.8 L1776.7,263.5 L1777.7,263.3 L1778.7,263.5 L1779.7,264.1 L1780.7,265.0 L1781.7,266.0 L1782.7,267.0 L1783.7,268.1 L1784.7,269.3 L1785.7,270.5 L1786.7,271.3 L1787.7,272.2 L1788.7,273.0 L1789.7,273.5 L1790.7,273.6 L1791.7,273.1 L1792.7,272.4 L1793.7,271.4 L1794.7,270.2 L1795.7,268.1 L1796.7,265.5 L1797.7,262.7 L1798.7,259.6 L1799.7,256.1 L1800.7,252.9 L1801.7,250.3 L1802.7,247.9 L1803.7,245.9 L1804.7,244.0 L1805.7,242.3 L1806.7,241.1 L1807.7,240.3 L1808.7,239.6 L1809.7,239.0 L1810.7,238.5 L1811.7,238.3 L1812.7,238.3 L1813.7,238.5 L1814.7,238.7 L1815.7,238.9 L1816.7,238.9 L1817.7,238.6 L1818.7,238.0 L1819.7,237.3 L1820.7,236.4 L1821.7,235.2 L1822.7,233.6 L1823.7,231.8 L1824.7,230.0 L1825.7,227.9 L1826.7,225.8 L1827.7,223.7 L1828.7,221.9 L1829.7,220.3 L1830.7,218.7 L1831.7,217.5 L1832.7,216.6 L1833.7,215.8 L1834.7,215.2 L1835.7,215.0 L1836.7,215.0 L1837.7,215.0 L1838.7,215.0 L1839.7,215.0 L1840.7,215.0 L1841.7,215.0 L1842.7,215.0 L1843.7,215.0 L1844.7,215.0 L1845.7,215.2 L1846.7,215.6 L1847.7,216.0 L1848.7,216.5 L1849.7,217.1 L1850.7,217.6 L1851.7,218.0 L1852.7,218.4 L1853.7,218.9 L1854.7,219.3 L1855.7,219.8 L1856.7,220.2 L1857.7,220.7 L1858.7,221.1 L1859.7,221.5 L1860.7,221.9 L1861.7,222.3 L1862.7,222.7 L1863.7,223.0 L1864.7,223.3 L1865.7,223.6 L1866.7,223.8 L1867.7,224.1 L1868.7,224.3 L1869.7,224.5 L1870.7,224.7 L1871.7,224.9 L1872.7,225.1 L1873.7,225.3 L1874.7,225.5 L1875.7,225.7 L1876.7,225.9 L1877.7,226.0 L1878.7,226.2 L1879.7,226.3 L1880.7,226.5 L1881.7,226.7 L1882.7,226.8 L1883.7,227.0 L1884.7,227.1 L1885.7,227.3 L1886.7,227.4 L1887.7,227.5 L1888.7,227.7 L1889.7,227.8 L1890.7,227.9 L1891.7,228.0 L1892.7,228.2 L1893.7,228.3 L1894.7,228.4 L1895.7,228.5 L1896.7,228.5 L1897.7,228.6 L1898.7,228.7 L1899.7,228.8 L1900.7,228.9 L1901.7,229.0 L1902.7,229.1 L1903.7,229.1 L1904.7,229.2 L1905.7,229.3 L1906.7,229.3 L1907.7,229.4 L1908.7,229.4 L1909.7,229.4 L1910.7,229.4 L1911.7,229.5 L1912.7,229.5 L1913.7,229.5 L1914.7,229.5 L1915.7,229.5 L1916.7,229.6 L1917.7,229.6 L1918.7,229.6 L1919.7,229.6 L1920.7,229.6 L1921.7,229.6 L1922.7,229.6 L1923.7,229.7 L1924.7,229.7 L1925.7,229.7 L1926.7,229.7 L1927.7,229.7 L1928.7,229.7 L1929.7,229.7 L1930.7,229.8 L1931.7,229.8 L1932.7,229.8 L1933.7,229.8 L1934.7,229.8 L1935.7,229.8 L1936.7,229.8 L1937.7,229.8 L1938.7,229.7 L1939.7,229.7 L1940.7,229.6 L1941.7,229.5 L1942.7,229.4 L1943.7,229.3 L1944.7,229.1 L1945.7,229.0 L1946.7,228.9 L1947.7,228.7 L1948.7,228.6 L1949.7,228.5 L1950.7,228.3 L1951.7,228.2 L1952.7,228.0 L1953.7,227.9 L1954.7,227.7 L1955.7,227.5 L1956.7,227.3 L1957.7,227.1 L1958.7,226.9 L1959.7,226.7 L1960.7,226.5 L1961.7,226.2 L1962.7,226.0 L1963.7,225.7 L1964.7,225.5 L1965.7,225.2 L1966.7,224.9 L1967.7,224.6 L1968.7,224.2 L1969.7,223.9 L1970.7,223.5 L1971.7,223.2 L1972.7,222.8 L1973.7,222.4 L1974.7,222.1 L1975.7,221.7 L1976.7,221.4 L1977.7,221.1 L1978.7,220.8 L1979.7,220.5 L1980.7,220.3 L1981.7,220.0 L1982.7,219.7 L1983.7,219.5 L1984.7,219.2 L1985.7,218.9 L1986.7,218.7 L1987.7,218.3 L1988.7,218.0 L1989.7,217.6 L1990.7,217.2 L1991.7,216.8 L1992.7,216.4 L1993.7,216.0 L1994.7,215.5 L1995.7,215.1 L1996.7,214.6 L1997.7,214.1 L1998.7,213.6 L1999.7,213.1 L2000.7,212.5 L2001.7,212.0 L2002.7,211.5 L2003.7,210.9 L2004.7,210.4 L2005.7,209.8 L2006.7,209.2 L2007.7,208.6 L2008.7,208.0 L2009.7,207.3 L2010.7,206.7 L2011.7,206.0 L2012.7,205.3 L2013.7,204.6 L2014.7,204.0 L2015.7,203.3 L2016.7,202.6 L2017.7,202.0 L2018.7,201.4 L2019.7,200.8 L2020.7,200.2 L2021.7,199.6 L2022.7,199.0 L2023.7,198.4 L2024.7,197.9 L2025.7,197.3 L2026.7,196.7 L2027.7,196.2 L2028.7,195.6 L2029.7,195.1 L2030.7,194.6 L2031.7,194.1 L2032.7,193.6 L2033.7,193.2 L2034.7,192.7 L2035.7,192.3 L2036.7,191.8 L2037.7,191.4 L2038.7,191.0 L2039.7,190.6 L2040.7,190.2 L2041.7,189.8 L2042.7,189.4 L2043.7,189.0 L2044.7,188.6 L2045.7,188.3 L2046.7,187.9 L2047.7,187.6 L2048.7,187.3 L2049.3,187.1" stroke="#00ffff" stroke-width="4.1"/>
<g stroke="#00ffff" stroke-width="4.3">
<path d="M183.5,1126.8L207.9,1151.2M183.5,1151.2L207.9,1126.8"/>
<path d="M245.2,1160.6L269.6,1185.0M245.2,1185.0L269.6,1160.6"/>
<path d="M307.0,1186.1L331.4,1210.5M307.0,1210.5L331.4,1186.1"/>
<path d="M368.8,1201.8L393.2,1226.2M368.8,1226.2L393.2,1201.8"/>
<path d="M430.7,1212.1L455.1,1236.5M430.7,1236.5L455.1,1212.1"/>
<path d="M492.5,1220.6L516.9,1245.0M492.5,1245.0L516.9,1220.6"/>
<path d="M554.3,1249.1L578.7,1273.5M554.3,1273.5L578.7,1249.1"/>
<path d="M616.2,1284.2L640.6,1308.6M616.2,1308.6L640.6,1284.2"/>
<path d="M678.0,1333.5L702.4,1357.9M678.0,1357.9L702.4,1333.5"/>
<path d="M739.8,1380.8L764.2,1405.2M739.8,1405.2L764.2,1380.8"/>
<path d="M801.7,1413.9L826.1,1438.3M801.7,1438.3L826.1,1413.9"/>
<path d="M863.5,1428.6L887.9,1453.0M863.5,1453.0L887.9,1428.6"/>
<path d="M925.3,1414.8L949.7,1439.2M925.3,1439.2L949.7,1414.8"/>
<path d="M987.2,1362.0L1011.6,1386.4M987.2,1386.4L1011.6,1362.0"/>
<path d="M1049.0,1263.2L1073.4,1287.6M1049.0,1287.6L1073.4,1263.2"/>
<path d="M1110.8,1082.0L1135.2,1106.4M1110.8,1106.4L1135.2,1082.0"/>
<path d="M1172.7,1009.1L1197.1,1033.5M1172.7,1033.5L1197.1,1009.1"/>
<path d="M1234.5,959.7L1258.9,984.1M1234.5,984.1L1258.9,959.7"/>
<path d="M1296.3,924.2L1320.7,948.6M1296.3,948.6L1320.7,924.2"/>
<path d="M1358.2,869.8L1382.6,894.2M1358.2,894.2L1382.6,869.8"/>
<path d="M1420.0,813.5L1444.4,837.9M1420.0,837.9L1444.4,813.5"/>
<path d="M1481.8,629.6L1506.2,654.0M1481.8,654.0L1506.2,629.6"/>
<path d="M1543.7,776.1L1568.1,800.5M1543.7,800.5L1568.1,776.1"/>
<path d="M1605.5,683.5L1629.9,707.9M1605.5,707.9L1629.9,683.5"/>
<path d="M1667.3,545.9L1691.7,570.3M1667.3,570.3L1691.7,545.9"/>
<path d="M1729.2,268.8L1753.6,293.2M1729.2,293.2L1753.6,268.8"/>
<path d="M1791.0,234.7L1815.4,259.1M1791.0,259.1L1815.4,234.7"/>
<path d="M1852.8,211.2L1877.2,235.6M1852.8,235.6L1877.2,211.2"/>
<path d="M1914.7,217.5L1939.1,241.9M1914.7,241.9L1939.1,217.5"/>
<path d="M1976.5,205.8L2000.9,230.2M1976.5,230.2L2000.9,205.8"/>
</g>
<path d="M195.7,1139.0 L196.7,1139.6 L197.7,1140.2 L198.7,1140.8 L199.7,1141.4 L200.7,1142.0 L201.7,1142.6 L202.7,1143.2 L203.7,1143.8 L204.7,1144.4 L205.7,1145.0 L206.7,1145.5 L207.7,1146.1 L208.7,1146.7 L209.7,1147.3 L210.7,1147.9 L211.7,1148.4 L212.7,1149.0 L213.7,1149.6 L214.7,1150.2 L215.7,1150.7 L216.7,1151.3 L217.7,1151.9 L218.7,1152.4 L219.7,1153.0 L220.7,1153.5 L221.7,1154.1 L222.7,1154.6 L223.7,1155.2 L224.7,1155.7 L225.7,1156.3 L226.7,1156.8 L227.7,1157.4 L228.7,1157.9 L229.7,1158.5 L230.7,1159.0 L231.7,1159.5 L232.7,1160.1 L233.7,1160.6 L234.7,1161.1 L235.7,1161.6 L236.7,1162.2 L237.7,1162.7 L238.7,1163.2 L239.7,1163.7 L240.7,1164.2 L241.7,1164.7 L242.7,1165.2 L243.7,1165.7 L244.7,1166.2 L245.7,1166.7 L246.7,1167.2 L247.7,1167.7 L248.7,1168.2 L249.7,1168.7 L250.7,1169.2 L251.7,1169.7 L252.7,1170.2 L253.7,1170.7 L254.7,1171.1 L255.7,1171.6 L256.7,1172.1 L257.7,1172.5 L258.7,1173.0 L259.7,1173.5 L260.7,1173.9 L261.7,1174.4 L262.7,1174.9 L263.7,1175.3 L264.7,1175.8 L265.7,1176.3 L266.7,1176.7 L267.7,1177.2 L268.7,1177.7 L269.7,1178.1 L270.7,1178.6 L271.7,1179.0 L272.7,1179.5 L273.7,1179.9 L274.7,1180.4 L275.7,1180.8 L276.7,1181.3 L277.7,1181.7 L278.7,1182.2 L279.7,1182.6 L280.7,1183.1 L281.7,1183.5 L282.7,1184.0 L283.7,1184.4 L284.7,1184.8 L285.7,1185.3 L286.7,1185.7 L287.7,1186.1 L288.7,1186.5 L289.7,1187.0 L290.7,1187.4 L291.7,1187.8 L292.7,1188.2 L293.7,1188.6 L294.7,1189.0 L295.7,1189.4 L296.7,1189.8 L297.7,1190.2 L298.7,1190.6 L299.7,1191.0 L300.7,1191.4 L301.7,1191.8 L302.7,1192.2 L303.7,1192.6 L304.7,1192.9 L305.7,1193.3 L306.7,1193.7 L307.7,1194.0 L308.7,1194.4 L309.7,1194.8 L310.7,1195.1 L311.7,1195.5 L312.7,1195.8 L313.7,1196.1 L314.7,1196.5 L315.7,1196.8 L316.7,1197.1 L317.7,1197.5 L318.7,1197.8 L319.7,1198.1 L320.7,1198.4 L321.7,1198.7 L322.7,1199.0 L323.7,1199.3 L324.7,1199.6 L325.7,1199.9 L326.7,1200.2 L327.7,1200.5 L328.7,1200.8 L329.7,1201.1 L330.7,1201.4 L331.7,1201.7 L332.7,1201.9 L333.7,1202.2 L334.7,1202.5 L335.7,1202.8 L336.7,1203.1 L337.7,1203.3 L338.7,1203.6 L339.7,1203.9 L340.7,1204.1 L341.7,1204.4 L342.7,1204.7 L343.7,1204.9 L344.7,1205.2 L345.7,1205.4 L346.7,1205.7 L347.7,1205.9 L348.7,1206.2 L349.7,1206.4 L350.7,1206.7 L351.7,1206.9 L352.7,1207.2 L353.7,1207.4 L354.7,1207.7 L355.7,1207.9 L356.7,1208.1 L357.7,1208.4 L358.7,1208.6 L359.7,1208.8 L360.7,1209.1 L361.7,1209.3 L362.7,1209.5 L363.7,1209.8 L364.7,1210.0 L365.7,1210.2 L366.7,1210.4 L367.7,1210.7 L368.7,1210.9 L369.7,1211.1 L370.7,1211.3 L371.7,1211.5 L372.7,1211.7 L373.7,1211.9 L374.7,1212.2 L375.7,1212.4 L376.7,1212.6 L377.7,1212.8 L378.7,1213.0 L379.7,1213.2 L380.7,1213.4 L381.7,1213.6 L382.7,1213.8 L383.7,1214.0 L384.7,1214.2 L385.7,1214.4 L386.7,1214.6 L387.7,1214.8 L388.7,1215.0 L389.7,1215.2 L390.7,1215.4 L391.7,1215.5 L392.7,1215.7 L393.7,1215.9 L394.7,1216.1 L395.7,1216.3 L396.7,1216.5 L397.7,1216.6 L398.7,1216.8 L399.7,1217.0 L400.7,1217.2 L401.7,1217.3 L402.7,1217.5 L403.7,1217.7 L404.7,1217.9 L405.7,1218.0 L406.7,1218.2 L407.7,1218.4 L408.7,1218.5 L409.7,1218.7 L410.7,1218.9 L411.7,1219.0 L412.7,1219.2 L413.7,1219.4 L414.7,1219.5 L415.7,1219.7 L416.7,1219.8 L417.7,1220.0 L418.7,1220.2 L419.7,1220.3 L420.7,1220.5 L421.7,1220.6 L422.7,1220.8 L423.7,1221.0 L424.7,1221.1 L425.7,1221.3 L426.7,1221.4 L427.7,1221.6 L428.7,1221.8 L429.7,1221.9 L430.7,1222.1 L431.7,1222.2 L432.7,1222.4 L433.7,1222.5 L434.7,1222.7 L435.7,1222.8 L436.7,1223.0 L437.7,1223.2 L438.7,1223.3 L439.7,1223.5 L440.7,1223.6 L441.7,1223.8 L442.7,1223.9 L443.7,1224.1 L444.7,1224.2 L445.7,1224.4 L446.7,1224.5 L447.7,1224.7 L448.7,1224.8 L449.7,1225.0 L450.7,1225.1 L451.7,1225.2 L452.7,1225.4 L453.7,1225.5 L454.7,1225.6 L455.7,1225.8 L456.7,1225.9 L457.7,1226.0 L458.7,1226.2 L459.7,1226.3 L460.7,1226.4 L461.7,1226.5 L462.7,1226.6 L463.7,1226.8 L464.7,1226.9 L465.7,1227.0 L466.7,1227.1 L467.7,1227.2 L468.7,1227.4 L469.7,1227.5 L470.7,1227.6 L471.7,1227.7 L472.7,1227.9 L473.7,1228.0 L474.7,1228.1 L475.7,1228.2 L476.7,1228.4 L477.7,1228.5 L478.7,1228.6 L479.7,1228.7 L480.7,1228.9 L481.7,1229.0 L482.7,1229.1 L483.7,1229.3 L484.7,1229.4 L485.7,1229.6 L486.7,1229.7 L487.7,1229.9 L488.7,1230.0 L489.7,1230.2 L490.7,1230.3 L491.7,1230.5 L492.7,1230.7 L493.7,1230.8 L494.7,1231.0 L495.7,1231.2 L496.7,1231.4 L497.7,1231.5 L498.7,1231.7 L499.7,1231.9 L500.7,1232.1 L501.7,1232.3 L502.7,1232.5 L503.7,1232.7 L504.7,1233.0 L505.7,1233.2 L506.7,1233.4 L507.7,1233.7 L508.7,1233.9 L509.7,1234.2 L510.7,1234.5 L511.7,1234.8 L512.7,1235.1 L513.7,1235.4 L514.7,1235.7 L515.7,1236.1 L516.7,1236.4 L517.7,1236.8 L518.7,1237.2 L519.7,1237.5 L520.7,1237.9 L521.7,1238.3 L522.7,1238.7 L523.7,1239.1 L524.7,1239.5 L525.7,1240.0 L526.7,1240.4 L527.7,1240.9 L528.7,1241.3 L529.7,1241.8 L530.7,1242.2 L531.7,1242.7 L532.7,1243.2 L533.7,1243.6 L534.7,1244.1 L535.7,1244.6 L536.7,1245.1 L537.7,1245.6 L538.7,1246.1 L539.7,1246.6 L540.7,1247.1 L541.7,1247.6 L542.7,1248.1 L543.7,1248.6 L544.7,1249.2 L545.7,1249.7 L546.7,1250.2 L547.7,1250.7 L548.7,1251.3 L549.7,1251.8 L550.7,1252.3 L551.7,1252.8 L552.7,1253.4 L553.7,1253.9 L554.7,1254.4 L555.7,1254.9 L556.7,1255.5 L557.7,1256.0 L558.7,1256.5 L559.7,1257.0 L560.7,1257.6 L561.7,1258.1 L562.7,1258.6 L563.7,1259.1 L564.7,1259.6 L565.7,1260.1 L566.7,1260.6 L567.7,1261.1 L568.7,1261.6 L569.7,1262.1 L570.7,1262.6 L571.7,1263.1 L572.7,1263.6 L573.7,1264.1 L574.7,1264.6 L575.7,1265.1 L576.7,1265.7 L577.7,1266.2 L578.7,1266.7 L579.7,1267.2 L580.7,1267.7 L581.7,1268.2 L582.7,1268.8 L583.7,1269.3 L584.7,1269.8 L585.7,1270.3 L586.7,1270.9 L587.7,1271.4 L588.7,1271.9 L589.7,1272.5 L590.7,1273.0 L591.7,1273.6 L592.7,1274.1 L593.7,1274.6 L594.7,1275.2 L595.7,1275.7 L596.7,1276.3 L597.7,1276.9 L598.7,1277.4 L599.7,1278.0 L600.7,1278.5 L601.7,1279.1 L602.7,1279.7 L603.7,1280.3 L604.7,1280.8 L605.7,1281.4 L606.7,1282.0 L607.7,1282.6 L608.7,1283.2 L609.7,1283.8 L610.7,1284.3 L611.7,1284.9 L612.7,1285.5 L613.7,1286.1 L614.7,1286.8 L615.7,1287.4 L616.7,1288.0 L617.7,1288.6 L618.7,1289.2 L619.7,1289.8 L620.7,1290.5 L621.7,1291.1 L622.7,1291.7 L623.7,1292.4 L624.7,1293.0 L625.7,1293.7 L626.7,1294.3 L627.7,1295.0 L628.7,1295.6 L629.7,1296.3 L630.7,1297.0 L631.7,1297.7 L632.7,1298.4 L633.7,1299.1 L634.7,1299.8 L635.7,1300.5 L636.7,1301.2 L637.7,1301.9 L638.7,1302.7 L639.7,1303.4 L640.7,1304.2 L641.7,1304.9 L642.7,1305.7 L643.7,1306.5 L644.7,1307.2 L645.7,1308.0 L646.7,1308.8 L647.7,1309.6 L648.7,1310.4 L649.7,1311.2 L650.7,1312.0 L651.7,1312.8 L652.7,1313.6 L653.7,1314.4 L654.7,1315.2 L655.7,1316.1 L656.7,1316.9 L657.7,1317.7 L658.7,1318.6 L659.7,1319.4 L660.7,1320.2 L661.7,1321.1 L662.7,1321.9 L663.7,1322.7 L664.7,1323.6 L665.7,1324.4 L666.7,1325.2 L667.7,1326.1 L668.7,1326.9 L669.7,1327.8 L670.7,1328.6 L671.7,1329.4 L672.7,1330.3 L673.7,1331.1 L674.7,1332.0 L675.7,1332.8 L676.7,1333.6 L677.7,1334.4 L678.7,1335.3 L679.7,1336.1 L680.7,1336.9 L681.7,1337.7 L682.7,1338.6 L683.7,1339.4 L684.7,1340.2 L685.7,1341.0 L686.7,1341.8 L687.7,1342.6 L688.7,1343.4 L689.7,1344.2 L690.7,1344.9 L691.7,1345.7 L692.7,1346.5 L693.7,1347.3 L694.7,1348.1 L695.7,1348.9 L696.7,1349.7 L697.7,1350.5 L698.7,1351.3 L699.7,1352.1 L700.7,1352.9 L701.7,1353.7 L702.7,1354.5 L703.7,1355.3 L704.7,1356.1 L705.7,1356.9 L706.7,1357.7 L707.7,1358.5 L708.7,1359.3 L709.7,1360.2 L710.7,1361.0 L711.7,1361.8 L712.7,1362.6 L713.7,1363.4 L714.7,1364.2 L715.7,1365.0 L716.7,1365.8 L717.7,1366.6 L718.7,1367.4 L719.7,1368.2 L720.7,1369.0 L721.7,1369.8 L722.7,1370.6 L723.7,1371.4 L724.7,1372.2 L725.7,1373.0 L726.7,1373.7 L727.7,1374.5 L728.7,1375.3 L729.7,1376.1 L730.7,1376.8 L731.7,1377.6 L732.7,1378.4 L733.7,1379.1 L734.7,1379.9 L735.7,1380.6 L736.7,1381.3 L737.7,1382.1 L738.7,1382.8 L739.7,1383.5 L740.7,1384.2 L741.7,1384.9 L742.7,1385.7 L743.7,1386.3 L744.7,1387.0 L745.7,1387.7 L746.7,1388.4 L747.7,1389.1 L748.7,1389.7 L749.7,1390.4 L750.7,1391.0 L751.7,1391.7 L752.7,1392.3 L753.7,1392.9 L754.7,1393.6 L755.7,1394.2 L756.7,1394.9 L757.7,1395.5 L758.7,1396.1 L759.7,1396.8 L760.7,1397.4 L761.7,1398.0 L762.7,1398.6 L763.7,1399.3 L764.7,1399.9 L765.7,1400.5 L766.7,1401.2 L767.7,1401.8 L768.7,1402.4 L769.7,1403.0 L770.7,1403.6 L771.7,1404.3 L772.7,1404.9 L773.7,1405.5 L774.7,1406.1 L775.7,1406.7 L776.7,1407.3 L777.7,1407.9 L778.7,1408.5 L779.7,1409.1 L780.7,1409.6 L781.7,1410.2 L782.7,1410.8 L783.7,1411.4 L784.7,1411.9 L785.7,1412.5 L786.7,1413.0 L787.7,1413.6 L788.7,1414.1 L789.7,1414.6 L790.7,1415.2 L791.7,1415.7 L792.7,1416.2 L793.7,1416.7 L794.7,1417.2 L795.7,1417.7 L796.7,1418.2 L797.7,1418.7 L798.7,1419.2 L799.7,1419.6 L800.7,1420.1 L801.7,1420.5 L802.7,1421.0 L803.7,1421.4 L804.7,1421.8 L805.7,1422.2 L806.7,1422.6 L807.7,1423.0 L808.7,1423.4 L809.7,1423.8 L810.7,1424.2 L811.7,1424.5 L812.7,1424.9 L813.7,1425.2 L814.7,1425.5 L815.7,1425.9 L816.7,1426.2 L817.7,1426.5 L818.7,1426.8 L819.7,1427.2 L820.7,1427.5 L821.7,1427.8 L822.7,1428.2 L823.7,1428.5 L824.7,1428.8 L825.7,1429.2 L826.7,1429.5 L827.7,1429.8 L828.7,1430.2 L829.7,1430.5 L830.7,1430.8 L831.7,1431.1 L832.7,1431.4 L833.7,1431.8 L834.7,1432.1 L835.7,1432.4 L836.7,1432.7 L837.7,1433.0 L838.7,1433.3 L839.7,1433.6 L840.7,1433.9 L841.7,1434.2 L842.7,1434.5 L843.7,1434.7 L844.7,1435.0 L845.7,1435.3 L846.7,1435.5 L847.7,1435.8 L848.7,1436.0 L849.7,1436.3 L850.7,1436.5 L851.7,1436.8 L852.7,1437.0 L853.7,1437.2 L854.7,1437.4 L855.7,1437.6 L856.7,1437.8 L857.7,1438.0 L858.7,1438.2 L859.7,1438.4 L860.7,1438.5 L861.7,1438.7 L862.7,1438.8 L863.7,1439.0 L864.7,1439.1 L865.7,1439.2 L866.7,1439.3 L867.7,1439.4 L868.7,1439.5 L869.7,1439.6 L870.7,1439.6 L871.7,1439.7 L872.7,1439.7 L873.7,1439.8 L874.7,1439.8 L875.7,1439.8 L876.7,1439.8 L877.7,1439.8 L878.7,1439.8 L879.7,1439.7 L880.7,1439.7 L881.7,1439.7 L882.7,1439.6 L883.7,1439.6 L884.7,1439.5 L885.7,1439.5 L886.7,1439.4 L887.7,1439.3 L888.7,1439.3 L889.7,1439.2 L890.7,1439.1 L891.7,1439.0 L892.7,1438.9 L893.7,1438.9 L894.7,1438.7 L895.7,1438.6 L896.7,1438.5 L897.7,1438.4 L898.7,1438.3 L899.7,1438.1 L900.7,1438.0 L901.7,1437.9 L902.7,1437.7 L903.7,1437.6 L904.7,1437.4 L905.7,1437.3 L906.7,1437.1 L907.7,1436.9 L908.7,1436.8 L909.7,1436.6 L910.7,1436.4 L911.7,1436.2 L912.7,1436.0 L913.7,1435.8 L914.7,1435.6 L915.7,1435.4 L916.7,1435.2 L917.7,1435.0 L918.7,1434.8 L919.7,1434.6 L920.7,1434.3 L921.7,1434.1 L922.7,1433.8 L923.7,1433.5 L924.7,1433.2 L925.7,1432.8 L926.7,1432.5 L927.7,1432.1 L928.7,1431.7 L929.7,1431.3 L930.7,1430.8 L931.7,1430.4 L932.7,1429.9 L933.7,1429.5 L934.7,1429.0 L935.7,1428.5 L936.7,1428.0 L937.7,1427.5 L938.7,1427.0 L939.7,1426.5 L940.7,1426.0 L941.7,1425.5 L942.7,1424.9 L943.7,1424.3 L944.7,1423.7 L945.7,1423.1 L946.7,1422.5 L947.7,1421.8 L948.7,1421.1 L949.7,1420.5 L950.7,1419.8 L951.7,1419.1 L952.7,1418.4 L953.7,1417.6 L954.7,1416.9 L955.7,1416.2 L956.7,1415.5 L957.7,1414.7 L958.7,1414.0 L959.7,1413.2 L960.7,1412.4 L961.7,1411.7 L962.7,1410.9 L963.7,1410.0 L964.7,1409.2 L965.7,1408.4 L966.7,1407.5 L967.7,1406.7 L968.7,1405.8 L969.7,1404.9 L970.7,1404.0 L971.7,1403.1 L972.7,1402.2 L973.7,1401.3 L974.7,1400.4 L975.7,1399.5 L976.7,1398.6 L977.7,1397.7 L978.7,1396.7 L979.7,1395.8 L980.7,1394.9 L981.7,1393.9 L982.7,1393.0 L983.7,1392.0 L984.7,1391.1 L985.7,1390.1 L986.7,1389.1 L987.7,1388.1 L988.7,1387.1 L989.7,1386.1 L990.7,1385.0 L991.7,1384.0 L992.7,1382.9 L993.7,1381.9 L994.7,1380.8 L995.7,1379.6 L996.7,1378.5 L997.7,1377.3 L998.7,1376.2 L999.7,1375.0 L1000.7,1373.7 L1001.7,1372.5 L1002.7,1371.2 L1003.7,1370.0 L1004.7,1368.7 L1005.7,1367.4 L1006.7,1366.0 L1007.7,1364.7 L1008.7,1363.3 L1009.7,1362.0 L1010.7,1360.6 L1011.7,1359.2 L1012.7,1357.8 L1013.7,1356.4 L1014.7,1354.9 L1015.7,1353.5 L1016.7,1352.0 L1017.7,1350.6 L1018.7,1349.1 L1019.7,1347.6 L1020.7,1346.0 L1021.7,1344.5 L1022.7,1342.9 L1023.7,1341.3 L1024.7,1339.7 L1025.7,1338.1 L1026.7,1336.5 L1027.7,1334.8 L1028.7,1333.2 L1029.7,1331.5 L1030.7,1329.8 L1031.7,1328.0 L1032.7,1326.3 L1033.7,1324.5 L1034.7,1322.7 L1035.7,1320.9 L1036.7,1319.0 L1037.7,1317.1 L1038.7,1315.2 L1039.7,1313.2 L1040.7,1311.2 L1041.7,1309.2 L1042.7,1307.1 L1043.7,1305.0 L1044.7,1302.9 L1045.7,1300.7 L1046.7,1298.5 L1047.7,1296.3 L1048.7,1294.1 L1049.7,1291.8 L1050.7,1289.5 L1051.7,1287.1 L1052.7,1284.7 L1053.7,1282.3 L1054.7,1279.9 L1055.7,1277.4 L1056.7,1274.9 L1057.7,1272.3 L1058.7,1269.7 L1059.7,1267.1 L1060.7,1264.3 L1061.7,1261.6 L1062.7,1258.8 L1063.7,1255.9 L1064.7,1253.0 L1065.7,1250.0 L1066.7,1247.0 L1067.7,1244.0 L1068.7,1240.8 L1069.7,1237.7 L1070.7,1234.4 L1071.7,1231.1 L1072.7,1227.7 L1073.7,1224.3 L1074.7,1220.7 L1075.7,1217.0 L1076.7,1213.2 L1077.7,1209.2 L1078.7,1205.3 L1079.7,1201.2 L1080.7,1197.2 L1081.7,1193.2 L1082.7,1189.3 L1083.7,1185.5 L1084.7,1181.8 L1085.7,1178.1 L1086.7,1174.5 L1087.7,1170.9 L1088.7,1167.2 L1089.7,1163.4 L1090.7,1159.5 L1091.7,1155.3 L1092.7,1150.9 L1093.7,1146.2 L1094.7,1141.2 L1095.7,1136.3 L1096.7,1131.6 L1097.7,1127.0 L1098.7,1122.5 L1099.7,1118.1 L1100.7,1113.8 L1101.7,1109.9 L1102.7,1106.2 L1103.7,1102.7 L1104.7,1099.3 L1105.7,1096.1 L1106.7,1093.1 L1107.7,1090.4 L1108.7,1087.8 L1109.7,1085.5 L1110.7,1083.2 L1111.7,1081.0 L1112.7,1078.9 L1113.7,1076.8 L1114.7,1074.7 L1115.7,1072.6 L1116.7,1070.5 L1117.7,1068.4 L1118.7,1066.4 L1119.7,1064.4 L1120.7,1062.4 L1121.7,1060.4 L1122.7,1058.5 L1123.7,1056.6 L1124.7,1054.8 L1125.7,1052.9 L1126.7,1051.1 L1127.7,1049.3 L1128.7,1047.5 L1129.7,1045.7 L1130.7,1044.0 L1131.7,1042.3 L1132.7,1040.7 L1133.7,1039.1 L1134.7,1037.5 L1135.7,1036.1 L1136.7,1034.7 L1137.7,1033.3 L1138.7,1032.0 L1139.7,1030.8 L1140.7,1029.5 L1141.7,1028.3 L1142.7,1027.2 L1143.7,1026.0 L1144.7,1024.9 L1145.7,1023.8 L1146.7,1022.7 L1147.7,1021.6 L1148.7,1020.4 L1149.7,1019.3 L1150.7,1018.2 L1151.7,1017.0 L1152.7,1015.9 L1153.7,1014.8 L1154.7,1013.7 L1155.7,1012.5 L1156.7,1011.4 L1157.7,1010.3 L1158.7,1009.2 L1159.7,1008.1 L1160.7,1007.0 L1161.7,1005.9 L1162.7,1004.8 L1163.7,1003.7 L1164.7,1002.5 L1165.7,1001.4 L1166.7,1000.2 L1167.7,999.0 L1168.7,997.8 L1169.7,996.5 L1170.7,995.3 L1171.7,994.0 L1172.7,992.8 L1173.7,991.5 L1174.7,990.2 L1175.7,988.9 L1176.7,987.6 L1177.7,986.4 L1178.7,985.1 L1179.7,983.9 L1180.7,982.6 L1181.7,981.4 L1182.7,980.2 L1183.7,979.0 L1184.7,977.8 L1185.7,976.6 L1186.7,975.4 L1187.7,974.2 L1188.7,973.1 L1189.7,971.9 L1190.7,970.8 L1191.7,969.6 L1192.7,968.5 L1193.7,967.5 L1194.7,966.4 L1195.7,965.3 L1196.7,964.3 L1197.7,963.3 L1198.7,962.2 L1199.7,961.2 L1200.7,960.2 L1201.7,959.2 L1202.7,958.2 L1203.7,957.3 L1204.7,956.3 L1205.7,955.3 L1206.7,954.4 L1207.7,953.5 L1208.7,952.5 L1209.7,951.6 L1210.7,950.7 L1211.7,949.7 L1212.7,948.8 L1213.7,947.9 L1214.7,947.0 L1215.7,946.1 L1216.7,945.2 L1217.7,944.4 L1218.7,943.5 L1219.7,942.7 L1220.7,941.8 L1221.7,941.0 L1222.7,940.2 L1223.7,939.4 L1224.7,938.6 L1225.7,937.8 L1226.7,937.1 L1227.7,936.3 L1228.7,935.5 L1229.7,934.8 L1230.7,934.1 L1231.7,933.3 L1232.7,932.7 L1233.7,932.0 L1234.7,931.3 L1235.7,930.7 L1236.7,930.1 L1237.7,929.5 L1238.7,928.9 L1239.7,928.4 L1240.7,927.9 L1241.7,927.4 L1242.7,926.9 L1243.7,926.4 L1244.7,926.0 L1245.7,925.5 L1246.7,925.0 L1247.7,924.6 L1248.7,924.1 L1249.7,923.6 L1250.7,923.1 L1251.7,922.6 L1252.7,922.1 L1253.7,921.6 L1254.7,921.1 L1255.7,920.6 L1256.7,920.1 L1257.7,919.6 L1258.7,919.1 L1259.7,918.6 L1260.7,918.1 L1261.7,917.6 L1262.7,917.1 L1263.7,916.6 L1264.7,916.1 L1265.7,915.6 L1266.7,915.1 L1267.7,914.5 L1268.7,914.0 L1269.7,913.5 L1270.7,913.0 L1271.7,912.5 L1272.7,911.9 L1273.7,911.4 L1274.7,910.9 L1275.7,910.4 L1276.7,909.9 L1277.7,909.4 L1278.7,908.9 L1279.7,908.3 L1280.7,907.8 L1281.7,907.3 L1282.7,906.7 L1283.7,906.1 L1284.7,905.6 L1285.7,905.0 L1286.7,904.4 L1287.7,903.7 L1288.7,903.1 L1289.7,902.4 L1290.7,901.7 L1291.7,901.0 L1292.7,900.3 L1293.7,899.5 L1294.7,898.7 L1295.7,897.9 L1296.7,897.1 L1297.7,896.3 L1298.7,895.4 L1299.7,894.6 L1300.7,893.8 L1301.7,892.9 L1302.7,892.1 L1303.7,891.2 L1304.7,890.4 L1305.7,889.6 L1306.7,888.8 L1307.7,888.0 L1308.7,887.2 L1309.7,886.5 L1310.7,885.7 L1311.7,885.0 L1312.7,884.3 L1313.7,883.6 L1314.7,882.9 L1315.7,882.2 L1316.7,881.5 L1317.7,880.8 L1318.7,880.1 L1319.7,879.4 L1320.7,878.7 L1321.7,878.0 L1322.7,877.3 L1323.7,876.6 L1324.7,875.8 L1325.7,875.1 L1326.7,874.3 L1327.7,873.5 L1328.7,872.7 L1329.7,871.9 L1330.7,871.1 L1331.7,870.2 L1332.7,869.4 L1333.7,868.5 L1334.7,867.6 L1335.7,866.8 L1336.7,865.9 L1337.7,865.0 L1338.7,864.0 L1339.7,863.1 L1340.7,862.2 L1341.7,861.3 L1342.7,860.3 L1343.7,859.4 L1344.7,858.4 L1345.7,857.5 L1346.7,856.5 L1347.7,855.5 L1348.7,854.5 L1349.7,853.5 L1350.7,852.5 L1351.7,851.5 L1352.7,850.5 L1353.7,849.5 L1354.7,848.4 L1355.7,847.4 L1356.7,846.3 L1357.7,845.2 L1358.7,844.2 L1359.7,843.1 L1360.7,842.0 L1361.7,840.9 L1362.7,839.8 L1363.7,838.7 L1364.7,837.6 L1365.7,836.5 L1366.7,835.4 L1367.7,834.3 L1368.7,833.2 L1369.7,832.1 L1370.7,831.0 L1371.7,829.8 L1372.7,828.7 L1373.7,827.5 L1374.7,826.4 L1375.7,825.2 L1376.7,824.0 L1377.7,822.9 L1378.7,821.7 L1379.7,820.5 L1380.7,819.4 L1381.7,818.2 L1382.7,817.0 L1383.7,815.8 L1384.7,814.7 L1385.7,813.5 L1386.7,812.3 L1387.7,811.1 L1388.7,809.8 L1389.7,808.6 L1390.7,807.3 L1391.7,806.1 L1392.7,804.8 L1393.7,803.6 L1394.7,802.3 L1395.7,801.1 L1396.7,799.8 L1397.7,798.6 L1398.7,797.4 L1399.7,796.3 L1400.7,795.1 L1401.7,794.0 L1402.7,792.9 L1403.7,791.9 L1404.7,790.9 L1405.7,789.9 L1406.7,788.9 L1407.7,788.0 L1408.7,787.0 L1409.7,786.1 L1410.7,785.2 L1411.7,784.3 L1412.7,783.4 L1413.7,782.5 L1414.7,781.7 L1415.7,780.8 L1416.7,780.0 L1417.7,779.2 L1418.7,778.4 L1419.7,777.7 L1420.7,776.9 L1421.7,776.2 L1422.7,775.5 L1423.7,774.9 L1424.7,774.2 L1425.7,773.6 L1426.7,773.0 L1427.7,772.5 L1428.7,772.1 L1429.7,771.7 L1430.7,771.3 L1431.7,771.0 L1432.7,770.8 L1433.7,770.7 L1434.7,770.9 L1435.7,771.3 L1436.7,771.9 L1437.7,772.7 L1438.7,774.2 L1439.7,776.9 L1440.7,780.4 L1441.7,784.0 L1442.7,788.3 L1443.7,793.0 L1444.7,797.5 L1445.7,801.9 L1446.7,806.3 L1447.7,810.5 L1448.7,814.7 L1449.7,818.4 L1450.7,821.3 L1451.7,823.7 L1452.7,824.9 L1453.7,825.6 L1454.7,825.6 L1455.7,825.1 L1456.7,824.1 L1457.7,822.4 L1458.7,818.8 L1459.7,814.2 L1460.7,809.5 L1461.7,804.0 L1462.7,798.2 L1463.7,792.7 L1464.7,787.4 L1465.7,781.8 L1466.7,775.7 L1467.7,769.1 L1468.7,761.9 L1469.7,753.4 L1470.7,742.0 L1471.7,731.4 L1472.7,721.7 L1473.7,712.0 L1474.7,701.9 L1475.7,691.6 L1476.7,681.4 L1477.7,671.4 L1478.7,661.6 L1479.7,651.9 L1480.7,642.1 L1481.7,632.6 L1482.7,625.1 L1483.7,619.0 L1484.7,613.7 L1485.7,608.6 L1486.7,603.3 L1487.7,597.9 L1488.7,594.1 L1489.7,591.6 L1490.7,589.6 L1491.7,588.3 L1492.7,587.5 L1493.7,586.8 L1494.7,586.5 L1495.7,586.7 L1496.7,587.4 L1497.7,588.5 L1498.7,589.9 L1499.7,592.2 L1500.7,594.7 L1501.7,597.2 L1502.7,599.5 L1503.7,602.0 L1504.7,604.8 L1505.7,608.2 L1506.7,612.4 L1507.7,617.1 L1508.7,621.9 L1509.7,627.0 L1510.7,632.4 L1511.7,637.9 L1512.7,643.2 L1513.7,648.7 L1514.7,653.9 L1515.7,658.6 L1516.7,662.6 L1517.7,666.2 L1518.7,669.6 L1519.7,672.6 L1520.7,675.5 L1521.7,678.1 L1522.7,680.3 L1523.7,682.1 L1524.7,683.6 L1525.7,684.9 L1526.7,686.0 L1527.7,687.0 L1528.7,687.8 L1529.7,688.5 L1530.7,689.1 L1531.7,689.8 L1532.7,690.5 L1533.7,691.3 L1534.7,692.1 L1535.7,692.9 L1536.7,693.8 L1537.7,694.7 L1538.7,695.8 L1539.7,697.2 L1540.7,698.8 L1541.7,700.6 L1542.7,702.5 L1543.7,704.6 L1544.7,706.9 L1545.7,709.4 L1546.7,711.9 L1547.7,714.4 L1548.7,717.2 L1549.7,719.9 L1550.7,722.6 L1551.7,725.0 L1552.7,727.5 L1553.7,729.8 L1554.7,731.9 L1555.7,733.6 L1556.7,735.0 L1557.7,736.4 L1558.7,737.2 L1559.7,737.4 L1560.7,736.9 L1561.7,736.2 L1562.7,735.2 L1563.7,733.9 L1564.7,731.8 L1565.7,729.3 L1566.7,726.7 L1567.7,724.2 L1568.7,721.5 L1569.7,718.8 L1570.7,716.1 L1571.7,713.6 L1572.7,711.0 L1573.7,708.6 L1574.7,706.3 L1575.7,704.3 L1576.7,702.5 L1577.7,700.8 L1578.7,699.3 L1579.7,698.2 L1580.7,697.4 L1581.7,696.8 L1582.7,696.4 L1583.7,696.0 L1584.7,695.5 L1585.7,695.0 L1586.7,694.4 L1587.7,693.8 L1588.7,693.1 L1589.7,692.3 L1590.7,691.4 L1591.7,690.4 L1592.7,688.9 L1593.7,687.1 L1594.7,685.1 L1595.7,682.9 L1596.7,680.2 L1597.7,677.0 L1598.7,673.7 L1599.7,670.8 L1600.7,668.4 L1601.7,666.2 L1602.7,664.2 L1603.7,662.4 L1604.7,660.8 L1605.7,659.4 L1606.7,658.2 L1607.7,657.0 L1608.7,655.9 L1609.7,654.7 L1610.7,653.4 L1611.7,652.3 L1612.7,651.0 L1613.7,649.6 L1614.7,647.8 L1615.7,645.6 L1616.7,642.9 L1617.7,639.9 L1618.7,636.8 L1619.7,633.3 L1620.7,629.4 L1621.7,625.2 L1622.7,620.9 L1623.7,616.4 L1624.7,611.5 L1625.7,606.5 L1626.7,601.8 L1627.7,597.3 L1628.7,592.8 L1629.7,588.5 L1630.7,584.8 L1631.7,582.2 L1632.7,580.2 L1633.7,578.5 L1634.7,577.3 L1635.7,576.6 L1636.7,576.0 L1637.7,575.7 L1638.7,575.9 L1639.7,576.4 L1640.7,577.3 L1641.7,578.2 L1642.7,579.7 L1643.7,581.6 L1644.7,583.7 L1645.7,585.7 L1646.7,587.6 L1647.7,589.7 L1648.7,591.6 L1649.7,593.2 L1650.7,594.4 L1651.7,595.6 L1652.7,596.6 L1653.7,597.1 L1654.7,597.0 L1655.7,596.5 L1656.7,595.6 L1657.7,594.5 L1658.7,592.8 L1659.7,589.6 L1660.7,585.5 L1661.7,581.1 L1662.7,575.8 L1663.7,569.7 L1664.7,563.4 L1665.7,556.5 L1666.7,549.6 L1667.7,543.5 L1668.7,537.9 L1669.7,532.8 L1670.7,528.4 L1671.7,524.5 L1672.7,520.7 L1673.7,517.0 L1674.7,513.4 L1675.7,510.0 L1676.7,507.0 L1677.7,504.2 L1678.7,501.5 L1679.7,499.0 L1680.7,496.7 L1681.7,494.6 L1682.7,492.3 L1683.7,489.7 L1684.7,486.8 L1685.7,483.6 L1686.7,480.1 L1687.7,476.3 L1688.7,472.3 L1689.7,467.8 L1690.7,462.9 L1691.7,457.1 L1692.7,450.5 L1693.7,443.6 L1694.7,435.9 L1695.7,428.0 L1696.7,420.9 L1697.7,414.3 L1698.7,408.2 L1699.7,402.8 L1700.7,398.5 L1701.7,395.2 L1702.7,391.8 L1703.7,387.5 L1704.7,380.9 L1705.7,373.3 L1706.7,366.8 L1707.7,361.3 L1708.7,356.1 L1709.7,351.4 L1710.7,346.9 L1711.7,342.8 L1712.7,338.8 L1713.7,335.1 L1714.7,331.5 L1715.7,328.1 L1716.7,324.8 L1717.7,321.5 L1718.7,318.3 L1719.7,315.1 L1720.7,312.0 L1721.7,308.8 L1722.7,305.1 L1723.7,300.7 L1724.7,295.5 L1725.7,290.0 L1726.7,284.3 L1727.7,278.2 L1728.7,272.3 L1729.7,266.5 L1730.7,260.8 L1731.7,255.6 L1732.7,251.1 L1733.7,246.8 L1734.7,242.6 L1735.7,238.1 L1736.7,234.1 L1737.7,231.4 L1738.7,229.4 L1739.7,227.6 L1740.7,225.8 L1741.7,224.0 L1742.7,222.4 L1743.7,221.3 L1744.7,220.6 L1745.7,220.0 L1746.7,219.5 L1747.7,219.3 L1748.7,219.4 L1749.7,219.7 L1750.7,220.2 L1751.7,220.7 L1752.7,221.3 L1753.7,221.9 L1754.7,222.7 L1755.7,223.5 L1756.7,224.1 L1757.7,224.5 L1758.7,224.9 L1759.7,225.2 L1760.7,225.4 L1761.7,225.4 L1762.7,225.1 L1763.7,224.5 L1764.7,223.8 L1765.7,222.9 L1766.7,221.7 L1767.7,220.0 L1768.7,218.1 L1769.7,216.2 L1770.7,214.5 L1771.7,212.6 L1772.7,210.9 L1773.7,209.9 L1774.7,209.3 L1775.7,208.8 L1776.7,208.5 L1777.7,208.3 L1778.7,208.5 L1779.7,209.1 L1780.7,210.1 L1781.7,211.0 L1782.7,211.9 L1783.7,213.0 L1784.7,214.1 L1785.7,215.1 L1786.7,215.9 L1787.7,216.8 L1788.7,217.7 L1789.7,218.2 L1790.7,218.3 L1791.7,217.9 L1792.7,217.2 L1793.7,216.3 L1794.7,215.2 L1795.7,213.2 L1796.7,210.6 L1797.7,207.7 L1798.7,204.5 L1799.7,200.7 L1800.7,197.1 L1801.7,193.7 L1802.7,190.6 L1803.7,188.4 L1804.7,187.1 L1805.7,186.1 L1806.7,185.3 L1807.7,184.6 L1808.7,183.9 L1809.7,183.3 L1810.7,182.9 L1811.7,182.6 L1812.7,182.7 L1813.7,182.9 L1814.7,183.3 L1815.7,183.5 L1816.7,183.6 L1817.7,183.3 L1818.7,182.8 L1819.7,182.2 L1820.7,181.4 L1821.7,180.3 L1822.7,178.6 L1823.7,176.8 L1824.7,175.0 L1825.7,172.9 L1826.7,170.8 L1827.7,168.7 L1828.7,166.9 L1829.7,165.3 L1830.7,163.7 L1831.7,162.5 L1832.7,161.6 L1833.7,160.8 L1834.7,160.2 L1835.7,160.0 L1836.7,160.0 L1837.7,160.0 L1838.7,160.0 L1839.7,160.0 L1840.7,160.0 L1841.7,160.0 L1842.7,160.0 L1843.7,160.0 L1844.7,160.0 L1845.7,160.2 L1846.7,160.6 L1847.7,161.0 L1848.7,161.6 L1849.7,162.1 L1850.7,162.6 L1851.7,163.0 L1852.7,163.4 L1853.7,163.8 L1854.7,164.2 L1855.7,164.6 L1856.7,164.9 L1857.7,165.3 L1858.7,165.7 L1859.7,166.0 L1860.7,166.4 L1861.7,166.7 L1862.7,167.1 L1863.7,167.4 L1864.7,167.6 L1865.7,167.9 L1866.7,168.1 L1867.7,168.4 L1868.7,168.6 L1869.7,168.8 L1870.7,169.0 L1871.7,169.2 L1872.7,169.4 L1873.7,169.6 L1874.7,169.8 L1875.7,170.0 L1876.7,170.1 L1877.7,170.3 L1878.7,170.5 L1879.7,170.6 L1880.7,170.8 L1881.7,171.0 L1882.7,171.2 L1883.7,171.3 L1884.7,171.5 L1885.7,171.7 L1886.7,171.8 L1887.7,172.0 L1888.7,172.1 L1889.7,172.3 L1890.7,172.4 L1891.7,172.6 L1892.7,172.7 L1893.7,172.8 L1894.7,172.9 L1895.7,173.1 L1896.7,173.2 L1897.7,173.3 L1898.7,173.4 L1899.7,173.5 L1900.7,173.6 L1901.7,173.7 L1902.7,173.8 L1903.7,173.9 L1904.7,174.0 L1905.7,174.1 L1906.7,174.2 L1907.7,174.2 L1908.7,174.3 L1909.7,174.4 L1910.7,174.5 L1911.7,174.5 L1912.7,174.6 L1913.7,174.7 L1914.7,174.8 L1915.7,174.8 L1916.7,174.9 L1917.7,174.9 L1918.7,175.0 L1919.7,175.0 L1920.7,175.1 L1921.7,175.1 L1922.7,175.1 L1923.7,175.1 L1924.7,175.1 L1925.7,175.1 L1926.7,175.1 L1927.7,175.1 L1928.7,175.1 L1929.7,175.1 L1930.7,175.1 L1931.7,175.1 L1932.7,175.1 L1933.7,175.1 L1934.7,175.1 L1935.7,175.1 L1936.7,175.1 L1937.7,175.1 L1938.7,175.1 L1939.7,175.0 L1940.7,175.0 L1941.7,174.9 L1942.7,174.8 L1943.7,174.8 L1944.7,174.7 L1945.7,174.6 L1946.7,174.4 L1947.7,174.3 L1948.7,174.2 L1949.7,174.1 L1950.7,174.0 L1951.7,173.9 L1952.7,173.7 L1953.7,173.6 L1954.7,173.5 L1955.7,173.3 L1956.7,173.1 L1957.7,172.9 L1958.7,172.7 L1959.7,172.5 L1960.7,172.3 L1961.7,172.1 L1962.7,171.9 L1963.7,171.6 L1964.7,171.4 L1965.7,171.1 L1966.7,170.8 L1967.7,170.5 L1968.7,170.2 L1969.7,169.8 L1970.7,169.4 L1971.7,169.0 L1972.7,168.6 L1973.7,168.3 L1974.7,167.9 L1975.7,167.5 L1976.7,167.1 L1977.7,166.7 L1978.7,166.3 L1979.7,166.0 L1980.7,165.6 L1981.7,165.2 L1982.7,164.8 L1983.7,164.5 L1984.7,164.1 L1985.7,163.7 L1986.7,163.3 L1987.7,162.9 L1988.7,162.5 L1989.7,162.0 L1990.7,161.6 L1991.7,161.1 L1992.7,160.6 L1993.7,160.1 L1994.7,159.5 L1995.7,159.0 L1996.7,158.4 L1997.7,157.8 L1998.7,157.2 L1999.7,156.5 L2000.7,155.9 L2001.7,155.3 L2002.7,154.6 L2003.7,154.0 L2004.7,153.3 L2005.7,152.7 L2006.7,152.0 L2007.7,151.3 L2008.7,150.6 L2009.7,149.9 L2010.7,149.2 L2011.7,148.4 L2012.7,147.7 L2013.7,147.0 L2014.7,146.3 L2015.7,145.5 L2016.7,144.8 L2017.7,144.2 L2018.7,143.5 L2019.7,142.8 L2020.7,142.2 L2021.7,141.6 L2022.7,140.9 L2023.7,140.3 L2024.7,139.7 L2025.7,139.1 L2026.7,138.5 L2027.7,137.9 L2028.7,137.3 L2029.7,136.7 L2030.7,136.2 L2031.7,135.7 L2032.7,135.1 L2033.7,134.7 L2034.7,134.2 L2035.7,133.7 L2036.7,133.2 L2037.7,132.8 L2038.7,132.3 L2039.7,131.9 L2040.7,131.4 L2041.7,131.0 L2042.7,130.6 L2043.7,130.2 L2044.7,129.8 L2045.7,129.4 L2046.7,129.1 L2047.7,128.7 L2048.7,128.4 L2049.3,128.2" stroke="#00ff00" stroke-width="4.1"/>
</g>
<rect x="239" y="139" width="392" height="228.7" fill="#ffffff" stroke="#262626" stroke-width="4" shape-rendering="crispEdges"/>
<g stroke="#ff0000" stroke-width="4.1" fill="none" shape-rendering="crispEdges"><line x1="255" y1="183" x2="427" y2="183" shape-rendering="crispEdges"/><circle cx="341" cy="183" r="17.2"/></g>
<text transform="translate(439.8,202.6) scale(1,1.04)" font-size="50.2" fill="#000000" stroke="#000000" stroke-width="0.5">SRAKF</text>
<g stroke="#00ffff" stroke-width="4.1" fill="none" shape-rendering="crispEdges"><line x1="255" y1="254" x2="427" y2="254" shape-rendering="crispEdges"/><path d="M328.8,241.8L353.2,266.2M328.8,266.2L353.2,241.8"/></g>
<text transform="translate(439.8,273.6) scale(1,1.04)" font-size="50.2" fill="#000000" stroke="#000000" stroke-width="0.5">CKF</text>
<g stroke="#00ff00" stroke-width="4.1" fill="none" shape-rendering="crispEdges"><line x1="255" y1="325" x2="427" y2="325" shape-rendering="crispEdges"/></g>
<text transform="translate(439.8,344.6) scale(1,1.04)" font-size="50.2" fill="#000000" stroke="#000000" stroke-width="0.5">UKF</text>
</svg>
</body></html>
